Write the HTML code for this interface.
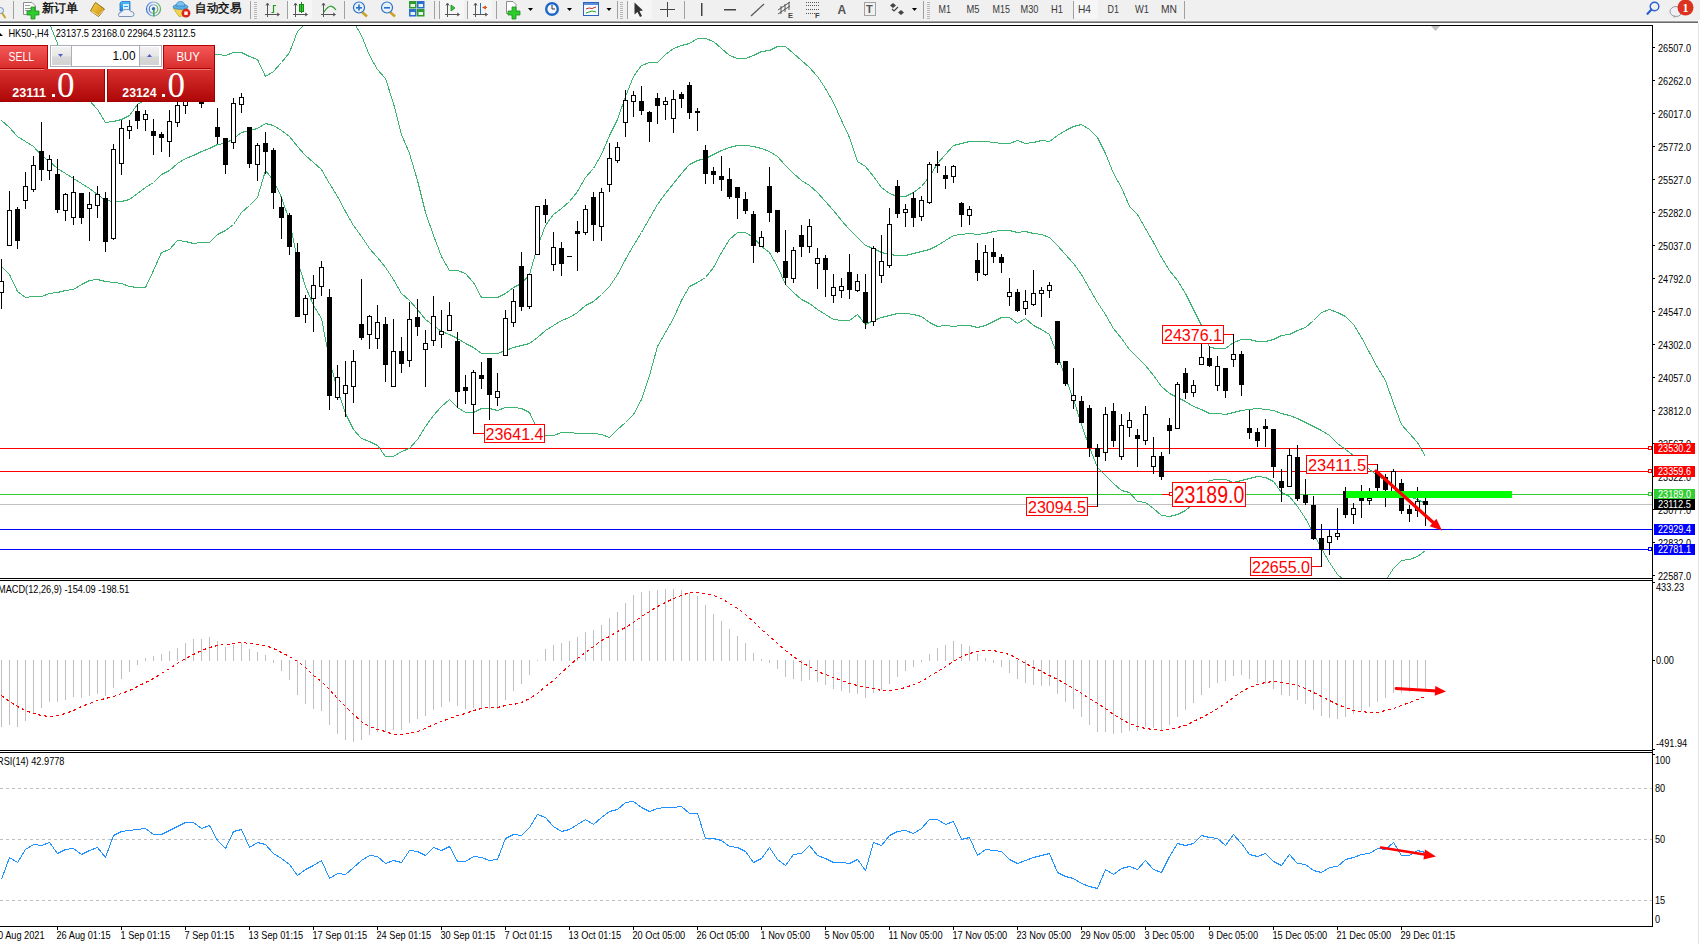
<!DOCTYPE html>
<html><head><meta charset="utf-8"><style>
html,body{margin:0;padding:0;}
body{width:1700px;height:944px;overflow:hidden;position:relative;background:#fff;}
</style></head><body>
<svg width="1700" height="944" viewBox="0 0 1700 944" style="position:absolute;left:0;top:0;display:block" font-family='"Liberation Sans", sans-serif'><rect x="0" y="0" width="1700" height="944" fill="#fff"/><defs><clipPath id="cm"><rect x="0" y="26" width="1652" height="552"/></clipPath><clipPath id="c1"><rect x="0" y="581" width="1652" height="169"/></clipPath><clipPath id="c2"><rect x="0" y="753" width="1652" height="173"/></clipPath></defs><g id="toolbar"><rect x="0" y="0" width="1700" height="20" fill="#f0f0f0"/><rect x="0" y="20" width="1698" height="1" fill="#f4f4f4"/><rect x="0" y="21" width="1698" height="1" fill="#a2a2a2"/><rect x="0" y="22" width="1698" height="1" fill="#6c6c6c"/><rect x="13" y="1" width="1" height="18" fill="#a0a0a0" shape-rendering="crispEdges"/><rect x="250" y="1" width="1" height="18" fill="#a0a0a0" shape-rendering="crispEdges"/><rect x="287" y="1" width="1" height="18" fill="#a0a0a0" shape-rendering="crispEdges"/><rect x="344" y="1" width="1" height="18" fill="#a0a0a0" shape-rendering="crispEdges"/><rect x="434" y="1" width="1" height="18" fill="#a0a0a0" shape-rendering="crispEdges"/><rect x="439" y="1" width="1" height="18" fill="#a0a0a0" shape-rendering="crispEdges"/><rect x="467" y="1" width="1" height="18" fill="#a0a0a0" shape-rendering="crispEdges"/><rect x="496" y="1" width="1" height="18" fill="#a0a0a0" shape-rendering="crispEdges"/><rect x="617" y="1" width="1" height="18" fill="#a0a0a0" shape-rendering="crispEdges"/><rect x="627" y="1" width="1" height="18" fill="#a0a0a0" shape-rendering="crispEdges"/><rect x="684" y="1" width="1" height="18" fill="#a0a0a0" shape-rendering="crispEdges"/><rect x="923" y="1" width="1" height="18" fill="#a0a0a0" shape-rendering="crispEdges"/><rect x="1073" y="1" width="1" height="18" fill="#a0a0a0" shape-rendering="crispEdges"/><rect x="1184" y="1" width="1" height="18" fill="#a0a0a0" shape-rendering="crispEdges"/><rect x="254" y="2" width="3" height="1" fill="#b8b8b8" shape-rendering="crispEdges"/><rect x="254" y="4" width="3" height="1" fill="#b8b8b8" shape-rendering="crispEdges"/><rect x="254" y="6" width="3" height="1" fill="#b8b8b8" shape-rendering="crispEdges"/><rect x="254" y="8" width="3" height="1" fill="#b8b8b8" shape-rendering="crispEdges"/><rect x="254" y="10" width="3" height="1" fill="#b8b8b8" shape-rendering="crispEdges"/><rect x="254" y="12" width="3" height="1" fill="#b8b8b8" shape-rendering="crispEdges"/><rect x="254" y="14" width="3" height="1" fill="#b8b8b8" shape-rendering="crispEdges"/><rect x="254" y="16" width="3" height="1" fill="#b8b8b8" shape-rendering="crispEdges"/><rect x="254" y="18" width="3" height="1" fill="#b8b8b8" shape-rendering="crispEdges"/><rect x="620" y="2" width="3" height="1" fill="#b8b8b8" shape-rendering="crispEdges"/><rect x="620" y="4" width="3" height="1" fill="#b8b8b8" shape-rendering="crispEdges"/><rect x="620" y="6" width="3" height="1" fill="#b8b8b8" shape-rendering="crispEdges"/><rect x="620" y="8" width="3" height="1" fill="#b8b8b8" shape-rendering="crispEdges"/><rect x="620" y="10" width="3" height="1" fill="#b8b8b8" shape-rendering="crispEdges"/><rect x="620" y="12" width="3" height="1" fill="#b8b8b8" shape-rendering="crispEdges"/><rect x="620" y="14" width="3" height="1" fill="#b8b8b8" shape-rendering="crispEdges"/><rect x="620" y="16" width="3" height="1" fill="#b8b8b8" shape-rendering="crispEdges"/><rect x="620" y="18" width="3" height="1" fill="#b8b8b8" shape-rendering="crispEdges"/><rect x="927" y="2" width="3" height="1" fill="#b8b8b8" shape-rendering="crispEdges"/><rect x="927" y="4" width="3" height="1" fill="#b8b8b8" shape-rendering="crispEdges"/><rect x="927" y="6" width="3" height="1" fill="#b8b8b8" shape-rendering="crispEdges"/><rect x="927" y="8" width="3" height="1" fill="#b8b8b8" shape-rendering="crispEdges"/><rect x="927" y="10" width="3" height="1" fill="#b8b8b8" shape-rendering="crispEdges"/><rect x="927" y="12" width="3" height="1" fill="#b8b8b8" shape-rendering="crispEdges"/><rect x="927" y="14" width="3" height="1" fill="#b8b8b8" shape-rendering="crispEdges"/><rect x="927" y="16" width="3" height="1" fill="#b8b8b8" shape-rendering="crispEdges"/><rect x="927" y="18" width="3" height="1" fill="#b8b8b8" shape-rendering="crispEdges"/><rect x="288" y="0" width="24" height="19" fill="#f6f6f6"/><rect x="440" y="0" width="24" height="19" fill="#f6f6f6"/><rect x="468" y="0" width="24" height="19" fill="#f6f6f6"/><rect x="628" y="0" width="24" height="19" fill="#f6f6f6"/><rect x="1074" y="0" width="24" height="19" fill="#f6f6f6"/><circle cx="0.5" cy="10.5" r="3" fill="#dfe9f5" stroke="#6a8fbf" stroke-width="1"/><line x1="2" y1="13" x2="5.5" y2="18" stroke="#c9a227" stroke-width="2"/><path d="M23.5 2.5 H32 L35.5 6 V14.5 H23.5 Z" fill="#fdfdfd" stroke="#8c8c8c" stroke-width="1"/><rect x="25" y="5" width="5" height="1" fill="#999"/><rect x="25" y="8" width="7" height="1" fill="#999"/><rect x="25" y="10" width="6" height="1" fill="#999"/><path d="M31 7 H35 V11 H39 V15 H35 V19 H31 V15 H27 V11 H31 Z" fill="#2ecc2e" stroke="#1d8f1d" stroke-width="0.8"/><text x="42" y="12.2" font-size="11.5" font-weight="bold" fill="#1a1a1a" font-family='"Liberation Sans", sans-serif' textLength="36" lengthAdjust="spacingAndGlyphs">新订单</text><defs><linearGradient id="gold" x1="0" y1="0" x2="1" y2="1"><stop offset="0" stop-color="#f7d34a"/><stop offset="1" stop-color="#c98f12"/></linearGradient><linearGradient id="blu" x1="0" y1="0" x2="0" y2="1"><stop offset="0" stop-color="#4cc0ff"/><stop offset="1" stop-color="#1a7fe0"/></linearGradient></defs><path d="M90.5 11 Q93 6 95.5 2.5 L104.5 9 Q102 12.5 98.5 16.5 Z" fill="url(#gold)" stroke="#8f6210" stroke-width="0.9"/><path d="M91.5 11.5 L98.5 15.5 L103.5 10" fill="none" stroke="#fbe9a8" stroke-width="0.8"/><path d="M120 3 L122 1.5 H130 V11 H120 Z" fill="url(#blu)" stroke="#1f6fc0" stroke-width="0.8"/><rect x="123" y="4" width="6" height="6" fill="#d8f0ff"/><rect x="124" y="6" width="4" height="1" fill="#3a9ae8"/><path d="M118.5 15.5 Q118 12 121.5 12 Q122.5 9 126.5 9.5 Q129 8.5 131 11.5 Q134 11.5 134 14.5 Q134 16.5 131.5 16.5 H120 Q118.5 16.5 118.5 15.5 Z" fill="#eef2f8" stroke="#6f86aa" stroke-width="0.9"/><defs><linearGradient id="sg" x1="0" y1="0" x2="1" y2="0"><stop offset="0" stop-color="#3a72d8"/><stop offset="0.5" stop-color="#8fb6e6"/><stop offset="1" stop-color="#5aae5a"/></linearGradient></defs><circle cx="153.5" cy="9" r="7" fill="none" stroke="url(#sg)" stroke-width="1.2"/><circle cx="153.5" cy="9" r="4.3" fill="none" stroke="url(#sg)" stroke-width="1.1"/><circle cx="153.5" cy="8.8" r="1.7" fill="#2f5fc8"/><rect x="153.2" y="9" width="1.3" height="7.5" fill="#22a022"/><path d="M173 8 L188 8 L183 16 L179 16.5 Z" fill="#f2d54c" stroke="#c0a030" stroke-width="0.7"/><ellipse cx="180.5" cy="6.8" rx="7.5" ry="2.6" fill="#5aaee6" stroke="#2f7fc0" stroke-width="0.7"/><path d="M176 6 Q176.5 1.5 180.5 1.5 Q184.5 1.5 185 6 Z" fill="#7cc4ef" stroke="#2f7fc0" stroke-width="0.7"/><circle cx="186" cy="13.2" r="4.4" fill="#d8261d"/><rect x="184.3" y="11.5" width="3.4" height="3.4" fill="#fff"/><text x="195" y="12.2" font-size="11.5" font-weight="bold" fill="#1a1a1a" font-family='"Liberation Sans", sans-serif' textLength="46" lengthAdjust="spacingAndGlyphs">自动交易</text><path d="M267.5 3.5 V16.5 M265 14.5 H279" fill="none" stroke="#555" stroke-width="1" shape-rendering="crispEdges"/><path d="M266 5.5 L267.5 3 L269 5.5 M277 13 L279.5 14.5 L277 16" fill="none" stroke="#555" stroke-width="1"/><path d="M271.5 12.5 H273.5 V5.5 H276" fill="none" stroke="#1f9a1f" stroke-width="1.2"/><path d="M295.5 3.5 V16.5 M293 14.5 H307" fill="none" stroke="#555" stroke-width="1" shape-rendering="crispEdges"/><path d="M294 5.5 L295.5 3 L297 5.5 M305 13 L307.5 14.5 L305 16" fill="none" stroke="#555" stroke-width="1"/><rect x="299.5" y="4.5" width="4" height="7" fill="#2ed12e" stroke="#1a8a1a" stroke-width="1"/><rect x="301" y="2" width="1" height="11" fill="#1a8a1a"/><path d="M323.5 3.5 V16.5 M321 14.5 H335" fill="none" stroke="#555" stroke-width="1" shape-rendering="crispEdges"/><path d="M322 5.5 L323.5 3 L325 5.5 M333 13 L335.5 14.5 L333 16" fill="none" stroke="#555" stroke-width="1"/><path d="M324 12 Q328 6 331 6 Q334 7 336 10" fill="none" stroke="#1f9a1f" stroke-width="1.2"/><line x1="362" y1="12" x2="367" y2="16.5" stroke="#c9a227" stroke-width="2.5"/><circle cx="359" cy="7.5" r="5.5" fill="#e7f1fb" stroke="#2a6fc4" stroke-width="1.2"/><rect x="356" y="7" width="6" height="1.6" fill="#2a6fc4"/><rect x="358.2" y="4.5" width="1.6" height="6" fill="#2a6fc4"/><line x1="390" y1="12" x2="395" y2="16.5" stroke="#c9a227" stroke-width="2.5"/><circle cx="387" cy="7.5" r="5.5" fill="#e7f1fb" stroke="#2a6fc4" stroke-width="1.2"/><rect x="384" y="7" width="6" height="1.6" fill="#2a6fc4"/><rect x="409" y="1" width="7.5" height="7.5" fill="#2f9a2f"/><rect x="410.5" y="4" width="4.5" height="3" fill="#e8f2e8"/><rect x="417" y="1" width="7.5" height="7.5" fill="#2b6fd0"/><rect x="418.5" y="4" width="4.5" height="3" fill="#e8f2e8"/><rect x="409" y="9" width="7.5" height="7.5" fill="#2b6fd0"/><rect x="410.5" y="12" width="4.5" height="3" fill="#e8f2e8"/><rect x="417" y="9" width="7.5" height="7.5" fill="#2f9a2f"/><rect x="418.5" y="12" width="4.5" height="3" fill="#e8f2e8"/><path d="M447.5 3.5 V16.5 M445 14.5 H459" fill="none" stroke="#555" stroke-width="1" shape-rendering="crispEdges"/><path d="M446 5.5 L447.5 3 L449 5.5 M457 13 L459.5 14.5 L457 16" fill="none" stroke="#555" stroke-width="1"/><path d="M451 5 L455 8 L451 11 Z" fill="#2ecc2e" stroke="#1a8a1a" stroke-width="0.8"/><path d="M475.5 3.5 V16.5 M473 14.5 H487" fill="none" stroke="#555" stroke-width="1" shape-rendering="crispEdges"/><path d="M474 5.5 L475.5 3 L477 5.5 M485 13 L487.5 14.5 L485 16" fill="none" stroke="#555" stroke-width="1"/><rect x="480" y="3" width="1" height="11" fill="#1f6fc8"/><path d="M482 7.5 L486 5.5 V9.5 Z M484 7 H487 V8 H484 Z" fill="#e2561c"/><path d="M506.5 1.5 H513 L516 4.5 V13.5 H506.5 Z" fill="#fdfdfd" stroke="#8c8c8c" stroke-width="1"/><path d="M512 7 H516 V11 H520 V15 H516 V19 H512 V15 H508 V11 H512 Z" fill="#2ecc2e" stroke="#1d8f1d" stroke-width="0.8"/><path d="M528.0 8 H533.0 L530.5 11 Z" fill="#000"/><path d="M567.0 8 H572.0 L569.5 11 Z" fill="#000"/><path d="M606.5 8 H611.5 L609 11 Z" fill="#000"/><circle cx="552" cy="9" r="7" fill="#1f67c9"/><circle cx="552" cy="9" r="4.6" fill="#f4f8fc"/><path d="M552 5 V9 H555" fill="none" stroke="#333" stroke-width="1"/><rect x="583.5" y="2.5" width="15" height="13" fill="#f6f9fd" stroke="#2b63c0" stroke-width="1"/><rect x="584" y="3" width="14" height="2" fill="#5d8ed8"/><path d="M586 9 L589 8 L592 8.5 L596 7" fill="none" stroke="#b33" stroke-width="1"/><path d="M586 13 L589 12 L592 11 L596 12" fill="none" stroke="#2a2" stroke-width="1"/><path d="M634.5 2.5 L643 10.5 L639.5 11 L642 16 L640 17 L637.5 12 L634.5 14.5 Z" fill="#333"/><rect x="667" y="2" width="1" height="15" fill="#444"/><rect x="660" y="9" width="15" height="1" fill="#444"/><rect x="701" y="3" width="1.5" height="13" fill="#444"/><rect x="724" y="9" width="12" height="1.5" fill="#444"/><line x1="751" y1="16" x2="764" y2="4" stroke="#555" stroke-width="1.2"/><path d="M778 10 L790 2 M778 14 L790 6 M781 6 V14 M785 4 V12 M789 2 V10" fill="none" stroke="#555" stroke-width="1"/><text x="788" y="18" font-size="7.5" font-weight="bold" fill="#444" font-family='"Liberation Sans", sans-serif'>E</text><line x1="806" y1="2.5" x2="820" y2="2.5" stroke="#555" stroke-width="1" stroke-dasharray="1 1"/><line x1="806" y1="5.5" x2="820" y2="5.5" stroke="#555" stroke-width="1" stroke-dasharray="1 1"/><line x1="806" y1="9.5" x2="820" y2="9.5" stroke="#555" stroke-width="1" stroke-dasharray="1 1"/><line x1="806" y1="13.5" x2="820" y2="13.5" stroke="#555" stroke-width="1" stroke-dasharray="1 1"/><text x="815" y="18" font-size="7.5" font-weight="bold" fill="#444" font-family='"Liberation Sans", sans-serif'>F</text><text x="837.5" y="13.5" font-size="12" font-weight="bold" fill="#555" font-family='"Liberation Sans", sans-serif'>A</text><rect x="864.5" y="2.5" width="11" height="13" fill="none" stroke="#555" stroke-width="1" stroke-dasharray="1 1"/><text x="866" y="13" font-size="11" font-weight="bold" fill="#555" font-family='"Liberation Sans", sans-serif'>T</text><path d="M893 3 L896 5.5 L893 8 L890 5.5 Z M901 10 L904 12.5 L901 15 L898 12.5 Z" fill="#444"/><path d="M892 9 L894 11 L898 7" fill="none" stroke="#444" stroke-width="1.2"/><path d="M912 8 H917 L914.5 11 Z" fill="#000"/><text x="938.6" y="13" font-size="10.5" fill="#3a3a3a" font-family='"Liberation Sans", sans-serif' textLength="12.4" lengthAdjust="spacingAndGlyphs">M1</text><text x="966.5" y="13" font-size="10.5" fill="#3a3a3a" font-family='"Liberation Sans", sans-serif' textLength="13.0" lengthAdjust="spacingAndGlyphs">M5</text><text x="992.6" y="13" font-size="10.5" fill="#3a3a3a" font-family='"Liberation Sans", sans-serif' textLength="17.4" lengthAdjust="spacingAndGlyphs">M15</text><text x="1020.6" y="13" font-size="10.5" fill="#3a3a3a" font-family='"Liberation Sans", sans-serif' textLength="17.9" lengthAdjust="spacingAndGlyphs">M30</text><text x="1051" y="13" font-size="10.5" fill="#3a3a3a" font-family='"Liberation Sans", sans-serif' textLength="12.0" lengthAdjust="spacingAndGlyphs">H1</text><text x="1078" y="13" font-size="10.5" fill="#3a3a3a" font-family='"Liberation Sans", sans-serif' textLength="13.0" lengthAdjust="spacingAndGlyphs">H4</text><text x="1107.6" y="13" font-size="10.5" fill="#3a3a3a" font-family='"Liberation Sans", sans-serif' textLength="11.4" lengthAdjust="spacingAndGlyphs">D1</text><text x="1135" y="13" font-size="10.5" fill="#3a3a3a" font-family='"Liberation Sans", sans-serif' textLength="14.0" lengthAdjust="spacingAndGlyphs">W1</text><text x="1161" y="13" font-size="10.5" fill="#3a3a3a" font-family='"Liberation Sans", sans-serif' textLength="16.0" lengthAdjust="spacingAndGlyphs">MN</text><circle cx="1654.5" cy="6.5" r="4.3" fill="none" stroke="#2a5fd0" stroke-width="1.4"/><line x1="1651.5" y1="9.5" x2="1647.5" y2="13.8" stroke="#2a5fd0" stroke-width="2.2" stroke-linecap="round"/><ellipse cx="1676" cy="11.5" rx="6" ry="5" fill="#eef0f6" stroke="#9a9a9a" stroke-width="1"/><path d="M1673 15.5 L1674 18 L1677 16" fill="#aaa"/><circle cx="1685.5" cy="7.5" r="8" fill="#dc3220"/><text x="1685.5" y="11.5" font-size="12" font-weight="bold" fill="#fff" text-anchor="middle" font-family="'Liberation Serif', serif">1</text></g><path d="M0 33 L3 36 H0 Z" fill="#000"/><text x="8.4" y="37" font-size="10.5" fill="#000" text-anchor="start" textLength="40.4" lengthAdjust="spacingAndGlyphs">HK50-,H4</text><text x="55.7" y="37" font-size="10.5" fill="#000" text-anchor="start" textLength="140.0" lengthAdjust="spacingAndGlyphs">23137.5 23168.0 22964.5 23112.5</text><g clip-path="url(#cm)" shape-rendering="crispEdges"><rect x="0" y="504" width="1652" height="1" fill="#c0c0c0"/><rect x="0" y="448" width="1652" height="1" fill="#ff0000"/><rect x="0" y="471" width="1652" height="1" fill="#ff0000"/><rect x="0" y="494" width="1652" height="1" fill="#32cd32"/><rect x="0" y="529" width="1652" height="1" fill="#0000ff"/><rect x="0" y="549" width="1652" height="1" fill="#0000ff"/></g><g clip-path="url(#cm)" shape-rendering="crispEdges"><polyline points="1.5,-19.5 9.5,-9.5 17.5,5.5 25.5,20.5 33.5,-14.5 41.5,5.5 49.5,23.5 57.5,43.5 65.5,65.5 73.5,85.5 81.5,95.5 89.5,100.5 97.5,109.5 105.5,122.5 113.5,121.5 121.5,119.5 129.5,115.5 137.5,104.5 145.5,99.5 153.5,93.5 161.5,97.5 169.5,91.5 177.5,86.5 185.5,76.5 193.5,66.5 201.5,61.5 209.5,54.5 217.5,54.5 225.5,55.5 233.5,52.5 241.5,52.5 249.5,56.5 257.5,59.5 265.5,76.5 273.5,71.5 281.5,62.5 289.5,52.5 297.5,31.5 305.5,23.5 313.5,20.5 321.5,20.5 329.5,6.5 337.5,4.5 345.5,9.5 353.5,21.5 361.5,35.5 369.5,55.5 377.5,69.5 385.5,78.5 393.5,103.5 401.5,134.5 409.5,153.5 417.5,180.5 425.5,212.5 433.5,235.5 441.5,256.5 449.5,270.5 457.5,270.5 465.5,273.5 473.5,282.5 481.5,297.5 489.5,297.5 497.5,297.5 505.5,293.5 513.5,287.5 521.5,283.5 529.5,274.5 537.5,246.5 545.5,225.5 553.5,214.5 561.5,208.5 569.5,201.5 577.5,191.5 585.5,177.5 593.5,168.5 601.5,154.5 609.5,135.5 617.5,119.5 625.5,96.5 633.5,76.5 641.5,65.5 649.5,62.5 657.5,62.5 665.5,54.5 673.5,48.5 681.5,45.5 689.5,43.5 697.5,38.5 705.5,38.5 713.5,41.5 721.5,48.5 729.5,55.5 737.5,58.5 745.5,58.5 753.5,55.5 761.5,51.5 769.5,50.5 777.5,46.5 785.5,46.5 793.5,53.5 801.5,60.5 809.5,67.5 817.5,76.5 825.5,88.5 833.5,102.5 841.5,120.5 849.5,137.5 857.5,161.5 865.5,166.5 873.5,176.5 881.5,187.5 889.5,193.5 897.5,196.5 905.5,196.5 913.5,192.5 921.5,186.5 929.5,176.5 937.5,163.5 945.5,154.5 953.5,145.5 961.5,143.5 969.5,141.5 977.5,141.5 985.5,141.5 993.5,142.5 1001.5,143.5 1009.5,143.5 1017.5,140.5 1025.5,143.5 1033.5,142.5 1041.5,140.5 1049.5,141.5 1057.5,135.5 1065.5,130.5 1073.5,126.5 1081.5,124.5 1089.5,129.5 1097.5,137.5 1105.5,153.5 1113.5,173.5 1121.5,187.5 1129.5,206.5 1137.5,214.5 1145.5,228.5 1153.5,242.5 1161.5,257.5 1169.5,270.5 1177.5,280.5 1185.5,293.5 1193.5,309.5 1201.5,325.5 1209.5,347.5 1217.5,348.5 1225.5,348.5 1233.5,342.5 1241.5,339.5 1249.5,339.5 1257.5,341.5 1265.5,341.5 1273.5,339.5 1281.5,335.5 1289.5,334.5 1297.5,330.5 1305.5,327.5 1313.5,320.5 1321.5,312.5 1329.5,309.5 1337.5,312.5 1345.5,316.5 1353.5,324.5 1361.5,337.5 1369.5,352.5 1377.5,367.5 1385.5,380.5 1393.5,403.5 1401.5,424.5 1409.5,433.5 1417.5,442.5 1425.5,456.5" fill="none" stroke="#3cb371" stroke-width="1" /><polyline points="1.5,120.5 9.5,127.5 17.5,136.5 25.5,141.5 33.5,146.5 41.5,155.5 49.5,161.5 57.5,168.5 65.5,173.5 73.5,178.5 81.5,183.5 89.5,188.5 97.5,194.5 105.5,200.5 113.5,201.5 121.5,201.5 129.5,199.5 137.5,193.5 145.5,187.5 153.5,182.5 161.5,174.5 169.5,170.5 177.5,163.5 185.5,158.5 193.5,155.5 201.5,151.5 209.5,148.5 217.5,144.5 225.5,143.5 233.5,138.5 241.5,132.5 249.5,130.5 257.5,128.5 265.5,123.5 273.5,125.5 281.5,130.5 289.5,136.5 297.5,146.5 305.5,155.5 313.5,162.5 321.5,169.5 329.5,183.5 337.5,196.5 345.5,211.5 353.5,225.5 361.5,236.5 369.5,248.5 377.5,257.5 385.5,267.5 393.5,279.5 401.5,293.5 409.5,300.5 417.5,309.5 425.5,319.5 433.5,325.5 441.5,331.5 449.5,334.5 457.5,338.5 465.5,343.5 473.5,347.5 481.5,353.5 489.5,353.5 497.5,353.5 505.5,350.5 513.5,347.5 521.5,345.5 529.5,343.5 537.5,337.5 545.5,330.5 553.5,325.5 561.5,320.5 569.5,317.5 577.5,312.5 585.5,305.5 593.5,301.5 601.5,294.5 609.5,286.5 617.5,274.5 625.5,259.5 633.5,245.5 641.5,232.5 649.5,218.5 657.5,204.5 665.5,193.5 673.5,183.5 681.5,173.5 689.5,164.5 697.5,160.5 705.5,158.5 713.5,154.5 721.5,150.5 729.5,147.5 737.5,145.5 745.5,145.5 753.5,146.5 761.5,148.5 769.5,151.5 777.5,156.5 785.5,165.5 793.5,173.5 801.5,180.5 809.5,185.5 817.5,192.5 825.5,201.5 833.5,210.5 841.5,220.5 849.5,229.5 857.5,237.5 865.5,245.5 873.5,248.5 881.5,252.5 889.5,254.5 897.5,255.5 905.5,255.5 913.5,253.5 921.5,251.5 929.5,249.5 937.5,245.5 945.5,240.5 953.5,235.5 961.5,234.5 969.5,233.5 977.5,234.5 985.5,233.5 993.5,231.5 1001.5,230.5 1009.5,230.5 1017.5,232.5 1025.5,231.5 1033.5,233.5 1041.5,234.5 1049.5,237.5 1057.5,245.5 1065.5,254.5 1073.5,263.5 1081.5,274.5 1089.5,288.5 1097.5,302.5 1105.5,314.5 1113.5,328.5 1121.5,338.5 1129.5,349.5 1137.5,357.5 1145.5,365.5 1153.5,375.5 1161.5,386.5 1169.5,393.5 1177.5,397.5 1185.5,401.5 1193.5,406.5 1201.5,409.5 1209.5,413.5 1217.5,413.5 1225.5,414.5 1233.5,412.5 1241.5,410.5 1249.5,409.5 1257.5,408.5 1265.5,409.5 1273.5,410.5 1281.5,413.5 1289.5,415.5 1297.5,418.5 1305.5,422.5 1313.5,426.5 1321.5,430.5 1329.5,435.5 1337.5,443.5 1345.5,449.5 1353.5,455.5 1361.5,462.5 1369.5,469.5 1377.5,475.5 1385.5,480.5 1393.5,486.5 1401.5,492.5 1409.5,496.5 1417.5,499.5 1425.5,503.5" fill="none" stroke="#3cb371" stroke-width="1" /><polyline points="1.5,266.5 9.5,274.5 17.5,291.5 25.5,297.5 33.5,296.5 41.5,296.5 49.5,293.5 57.5,292.5 65.5,290.5 73.5,289.5 81.5,284.5 89.5,280.5 97.5,279.5 105.5,281.5 113.5,282.5 121.5,283.5 129.5,286.5 137.5,287.5 145.5,287.5 153.5,270.5 161.5,252.5 169.5,249.5 177.5,240.5 185.5,241.5 193.5,243.5 201.5,242.5 209.5,242.5 217.5,234.5 225.5,230.5 233.5,224.5 241.5,212.5 249.5,205.5 257.5,197.5 265.5,170.5 273.5,180.5 281.5,197.5 289.5,220.5 297.5,260.5 305.5,286.5 313.5,305.5 321.5,318.5 329.5,360.5 337.5,389.5 345.5,413.5 353.5,429.5 361.5,438.5 369.5,441.5 377.5,445.5 385.5,456.5 393.5,456.5 401.5,451.5 409.5,448.5 417.5,439.5 425.5,426.5 433.5,415.5 441.5,406.5 449.5,399.5 457.5,407.5 465.5,412.5 473.5,412.5 481.5,408.5 489.5,408.5 497.5,410.5 505.5,407.5 513.5,407.5 521.5,408.5 529.5,412.5 537.5,429.5 545.5,435.5 553.5,435.5 561.5,432.5 569.5,432.5 577.5,433.5 585.5,433.5 593.5,433.5 601.5,434.5 609.5,437.5 617.5,429.5 625.5,422.5 633.5,414.5 641.5,399.5 649.5,375.5 657.5,346.5 665.5,332.5 673.5,318.5 681.5,300.5 689.5,286.5 697.5,282.5 705.5,277.5 713.5,267.5 721.5,252.5 729.5,239.5 737.5,232.5 745.5,232.5 753.5,237.5 761.5,246.5 769.5,252.5 777.5,266.5 785.5,284.5 793.5,292.5 801.5,299.5 809.5,303.5 817.5,309.5 825.5,314.5 833.5,319.5 841.5,320.5 849.5,320.5 857.5,314.5 865.5,324.5 873.5,320.5 881.5,317.5 889.5,315.5 897.5,313.5 905.5,313.5 913.5,314.5 921.5,316.5 929.5,322.5 937.5,326.5 945.5,325.5 953.5,326.5 961.5,325.5 969.5,325.5 977.5,327.5 985.5,325.5 993.5,321.5 1001.5,317.5 1009.5,317.5 1017.5,323.5 1025.5,318.5 1033.5,325.5 1041.5,329.5 1049.5,334.5 1057.5,355.5 1065.5,377.5 1073.5,399.5 1081.5,424.5 1089.5,447.5 1097.5,467.5 1105.5,475.5 1113.5,483.5 1121.5,490.5 1129.5,492.5 1137.5,501.5 1145.5,502.5 1153.5,508.5 1161.5,515.5 1169.5,516.5 1177.5,514.5 1185.5,510.5 1193.5,503.5 1201.5,494.5 1209.5,480.5 1217.5,479.5 1225.5,479.5 1233.5,482.5 1241.5,480.5 1249.5,478.5 1257.5,476.5 1265.5,477.5 1273.5,481.5 1281.5,492.5 1289.5,496.5 1297.5,506.5 1305.5,518.5 1313.5,533.5 1321.5,548.5 1329.5,562.5 1337.5,574.5 1345.5,581.5 1353.5,587.5 1361.5,587.5 1369.5,586.5 1377.5,582.5 1385.5,580.5 1393.5,568.5 1401.5,560.5 1409.5,559.5 1417.5,556.5 1425.5,550.5" fill="none" stroke="#3cb371" stroke-width="1" /></g><g clip-path="url(#cm)" shape-rendering="crispEdges"><rect x="1" y="259" width="1" height="50" fill="#000"/><rect x="-1" y="281" width="5" height="12" fill="#000"/><rect x="0" y="282" width="3" height="10" fill="#fff"/><rect x="9" y="191" width="1" height="55" fill="#000"/><rect x="7" y="210" width="5" height="36" fill="#000"/><rect x="8" y="211" width="3" height="34" fill="#fff"/><rect x="17" y="207" width="1" height="42" fill="#000"/><rect x="15" y="209" width="5" height="32" fill="#000"/><rect x="25" y="172" width="1" height="37" fill="#000"/><rect x="23" y="186" width="5" height="15" fill="#000"/><rect x="24" y="187" width="3" height="13" fill="#fff"/><rect x="33" y="156" width="1" height="36" fill="#000"/><rect x="31" y="165" width="5" height="25" fill="#000"/><rect x="32" y="166" width="3" height="23" fill="#fff"/><rect x="41" y="122" width="1" height="59" fill="#000"/><rect x="39" y="151" width="5" height="19" fill="#000"/><rect x="49" y="155" width="1" height="25" fill="#000"/><rect x="47" y="159" width="5" height="12" fill="#000"/><rect x="48" y="160" width="3" height="10" fill="#fff"/><rect x="57" y="159" width="1" height="54" fill="#000"/><rect x="55" y="174" width="5" height="36" fill="#000"/><rect x="65" y="193" width="1" height="28" fill="#000"/><rect x="63" y="194" width="5" height="17" fill="#000"/><rect x="64" y="195" width="3" height="15" fill="#fff"/><rect x="73" y="176" width="1" height="49" fill="#000"/><rect x="71" y="192" width="5" height="26" fill="#000"/><rect x="72" y="193" width="3" height="24" fill="#fff"/><rect x="81" y="193" width="1" height="31" fill="#000"/><rect x="79" y="193" width="5" height="25" fill="#000"/><rect x="89" y="192" width="1" height="49" fill="#000"/><rect x="87" y="204" width="5" height="5" fill="#000"/><rect x="88" y="205" width="3" height="3" fill="#fff"/><rect x="97" y="186" width="1" height="32" fill="#000"/><rect x="95" y="194" width="5" height="12" fill="#000"/><rect x="96" y="195" width="3" height="10" fill="#fff"/><rect x="105" y="192" width="1" height="60" fill="#000"/><rect x="103" y="198" width="5" height="44" fill="#000"/><rect x="113" y="144" width="1" height="96" fill="#000"/><rect x="111" y="149" width="5" height="90" fill="#000"/><rect x="112" y="150" width="3" height="88" fill="#fff"/><rect x="121" y="120" width="1" height="55" fill="#000"/><rect x="119" y="128" width="5" height="36" fill="#000"/><rect x="120" y="129" width="3" height="34" fill="#fff"/><rect x="129" y="120" width="1" height="19" fill="#000"/><rect x="127" y="126" width="5" height="5" fill="#000"/><rect x="128" y="127" width="3" height="3" fill="#fff"/><rect x="137" y="104" width="1" height="25" fill="#000"/><rect x="135" y="111" width="5" height="10" fill="#000"/><rect x="145" y="110" width="1" height="21" fill="#000"/><rect x="143" y="114" width="5" height="6" fill="#000"/><rect x="144" y="115" width="3" height="4" fill="#fff"/><rect x="153" y="119" width="1" height="36" fill="#000"/><rect x="151" y="131" width="5" height="5" fill="#000"/><rect x="161" y="132" width="1" height="20" fill="#000"/><rect x="159" y="134" width="5" height="4" fill="#000"/><rect x="169" y="110" width="1" height="47" fill="#000"/><rect x="167" y="121" width="5" height="21" fill="#000"/><rect x="168" y="122" width="3" height="19" fill="#fff"/><rect x="177" y="100" width="1" height="27" fill="#000"/><rect x="175" y="105" width="5" height="18" fill="#000"/><rect x="176" y="106" width="3" height="16" fill="#fff"/><rect x="185" y="80" width="1" height="34" fill="#000"/><rect x="183" y="89" width="5" height="17" fill="#000"/><rect x="184" y="90" width="3" height="15" fill="#fff"/><rect x="193" y="80" width="1" height="16" fill="#000"/><rect x="191" y="88" width="5" height="3" fill="#000"/><rect x="192" y="89" width="3" height="1" fill="#fff"/><rect x="201" y="82" width="1" height="26" fill="#000"/><rect x="199" y="88" width="5" height="16" fill="#000"/><rect x="209" y="85" width="1" height="17" fill="#000"/><rect x="207" y="92" width="5" height="10" fill="#000"/><rect x="208" y="93" width="3" height="8" fill="#fff"/><rect x="217" y="108" width="1" height="36" fill="#000"/><rect x="215" y="127" width="5" height="10" fill="#000"/><rect x="225" y="138" width="1" height="36" fill="#000"/><rect x="223" y="138" width="5" height="27" fill="#000"/><rect x="233" y="98" width="1" height="51" fill="#000"/><rect x="231" y="103" width="5" height="40" fill="#000"/><rect x="232" y="104" width="3" height="38" fill="#fff"/><rect x="241" y="93" width="1" height="20" fill="#000"/><rect x="239" y="97" width="5" height="8" fill="#000"/><rect x="240" y="98" width="3" height="6" fill="#fff"/><rect x="249" y="127" width="1" height="41" fill="#000"/><rect x="247" y="127" width="5" height="37" fill="#000"/><rect x="257" y="143" width="1" height="38" fill="#000"/><rect x="255" y="145" width="5" height="20" fill="#000"/><rect x="256" y="146" width="3" height="18" fill="#fff"/><rect x="265" y="132" width="1" height="42" fill="#000"/><rect x="263" y="143" width="5" height="9" fill="#000"/><rect x="273" y="148" width="1" height="61" fill="#000"/><rect x="271" y="150" width="5" height="43" fill="#000"/><rect x="281" y="197" width="1" height="42" fill="#000"/><rect x="279" y="207" width="5" height="11" fill="#000"/><rect x="289" y="213" width="1" height="42" fill="#000"/><rect x="287" y="215" width="5" height="32" fill="#000"/><rect x="297" y="243" width="1" height="74" fill="#000"/><rect x="295" y="252" width="5" height="65" fill="#000"/><rect x="305" y="295" width="1" height="28" fill="#000"/><rect x="303" y="298" width="5" height="17" fill="#000"/><rect x="304" y="299" width="3" height="15" fill="#fff"/><rect x="313" y="275" width="1" height="57" fill="#000"/><rect x="311" y="285" width="5" height="14" fill="#000"/><rect x="312" y="286" width="3" height="12" fill="#fff"/><rect x="321" y="261" width="1" height="35" fill="#000"/><rect x="319" y="267" width="5" height="20" fill="#000"/><rect x="320" y="268" width="3" height="18" fill="#fff"/><rect x="329" y="289" width="1" height="121" fill="#000"/><rect x="327" y="297" width="5" height="99" fill="#000"/><rect x="337" y="365" width="1" height="35" fill="#000"/><rect x="335" y="377" width="5" height="21" fill="#000"/><rect x="336" y="378" width="3" height="19" fill="#fff"/><rect x="345" y="361" width="1" height="56" fill="#000"/><rect x="343" y="385" width="5" height="9" fill="#000"/><rect x="344" y="386" width="3" height="7" fill="#fff"/><rect x="353" y="350" width="1" height="53" fill="#000"/><rect x="351" y="361" width="5" height="26" fill="#000"/><rect x="352" y="362" width="3" height="24" fill="#fff"/><rect x="361" y="279" width="1" height="61" fill="#000"/><rect x="359" y="324" width="5" height="14" fill="#000"/><rect x="369" y="315" width="1" height="34" fill="#000"/><rect x="367" y="316" width="5" height="19" fill="#000"/><rect x="368" y="317" width="3" height="17" fill="#fff"/><rect x="377" y="305" width="1" height="44" fill="#000"/><rect x="375" y="322" width="5" height="17" fill="#000"/><rect x="376" y="323" width="3" height="15" fill="#fff"/><rect x="385" y="317" width="1" height="65" fill="#000"/><rect x="383" y="324" width="5" height="41" fill="#000"/><rect x="393" y="319" width="1" height="68" fill="#000"/><rect x="391" y="351" width="5" height="36" fill="#000"/><rect x="392" y="352" width="3" height="34" fill="#fff"/><rect x="401" y="337" width="1" height="36" fill="#000"/><rect x="399" y="351" width="5" height="13" fill="#000"/><rect x="409" y="302" width="1" height="65" fill="#000"/><rect x="407" y="319" width="5" height="42" fill="#000"/><rect x="408" y="320" width="3" height="40" fill="#fff"/><rect x="417" y="299" width="1" height="37" fill="#000"/><rect x="415" y="317" width="5" height="10" fill="#000"/><rect x="425" y="330" width="1" height="57" fill="#000"/><rect x="423" y="343" width="5" height="7" fill="#000"/><rect x="424" y="344" width="3" height="5" fill="#fff"/><rect x="433" y="296" width="1" height="50" fill="#000"/><rect x="431" y="316" width="5" height="25" fill="#000"/><rect x="432" y="317" width="3" height="23" fill="#fff"/><rect x="441" y="310" width="1" height="38" fill="#000"/><rect x="439" y="331" width="5" height="4" fill="#000"/><rect x="440" y="332" width="3" height="2" fill="#fff"/><rect x="449" y="302" width="1" height="29" fill="#000"/><rect x="447" y="315" width="5" height="16" fill="#000"/><rect x="448" y="316" width="3" height="14" fill="#fff"/><rect x="457" y="332" width="1" height="76" fill="#000"/><rect x="455" y="341" width="5" height="51" fill="#000"/><rect x="465" y="375" width="1" height="29" fill="#000"/><rect x="463" y="387" width="5" height="4" fill="#000"/><rect x="473" y="370" width="1" height="64" fill="#000"/><rect x="471" y="372" width="5" height="33" fill="#000"/><rect x="472" y="373" width="3" height="31" fill="#fff"/><rect x="481" y="362" width="1" height="27" fill="#000"/><rect x="479" y="375" width="5" height="4" fill="#000"/><rect x="489" y="358" width="1" height="62" fill="#000"/><rect x="487" y="358" width="5" height="37" fill="#000"/><rect x="497" y="373" width="1" height="33" fill="#000"/><rect x="495" y="391" width="5" height="7" fill="#000"/><rect x="496" y="392" width="3" height="5" fill="#fff"/><rect x="505" y="310" width="1" height="46" fill="#000"/><rect x="503" y="318" width="5" height="38" fill="#000"/><rect x="504" y="319" width="3" height="36" fill="#fff"/><rect x="513" y="289" width="1" height="38" fill="#000"/><rect x="511" y="301" width="5" height="22" fill="#000"/><rect x="512" y="302" width="3" height="20" fill="#fff"/><rect x="521" y="252" width="1" height="59" fill="#000"/><rect x="519" y="266" width="5" height="41" fill="#000"/><rect x="529" y="274" width="1" height="35" fill="#000"/><rect x="527" y="274" width="5" height="33" fill="#000"/><rect x="528" y="275" width="3" height="31" fill="#fff"/><rect x="537" y="206" width="1" height="49" fill="#000"/><rect x="535" y="206" width="5" height="49" fill="#000"/><rect x="536" y="207" width="3" height="47" fill="#fff"/><rect x="545" y="199" width="1" height="24" fill="#000"/><rect x="543" y="205" width="5" height="10" fill="#000"/><rect x="553" y="232" width="1" height="39" fill="#000"/><rect x="551" y="247" width="5" height="18" fill="#000"/><rect x="552" y="248" width="3" height="16" fill="#fff"/><rect x="561" y="242" width="1" height="34" fill="#000"/><rect x="559" y="248" width="5" height="16" fill="#000"/><rect x="569" y="256" width="1" height="1" fill="#000"/><rect x="567" y="256" width="5" height="1" fill="#000"/><rect x="577" y="221" width="1" height="50" fill="#000"/><rect x="575" y="231" width="5" height="3" fill="#000"/><rect x="585" y="205" width="1" height="30" fill="#000"/><rect x="583" y="209" width="5" height="24" fill="#000"/><rect x="584" y="210" width="3" height="22" fill="#fff"/><rect x="593" y="192" width="1" height="49" fill="#000"/><rect x="591" y="197" width="5" height="28" fill="#000"/><rect x="601" y="188" width="1" height="53" fill="#000"/><rect x="599" y="192" width="5" height="35" fill="#000"/><rect x="600" y="193" width="3" height="33" fill="#fff"/><rect x="609" y="143" width="1" height="49" fill="#000"/><rect x="607" y="158" width="5" height="27" fill="#000"/><rect x="608" y="159" width="3" height="25" fill="#fff"/><rect x="617" y="142" width="1" height="21" fill="#000"/><rect x="615" y="147" width="5" height="14" fill="#000"/><rect x="616" y="148" width="3" height="12" fill="#fff"/><rect x="625" y="90" width="1" height="47" fill="#000"/><rect x="623" y="100" width="5" height="23" fill="#000"/><rect x="624" y="101" width="3" height="21" fill="#fff"/><rect x="633" y="91" width="1" height="26" fill="#000"/><rect x="631" y="95" width="5" height="7" fill="#000"/><rect x="632" y="96" width="3" height="5" fill="#fff"/><rect x="641" y="86" width="1" height="29" fill="#000"/><rect x="639" y="101" width="5" height="10" fill="#000"/><rect x="649" y="111" width="1" height="31" fill="#000"/><rect x="647" y="112" width="5" height="10" fill="#000"/><rect x="657" y="93" width="1" height="31" fill="#000"/><rect x="655" y="98" width="5" height="8" fill="#000"/><rect x="665" y="97" width="1" height="23" fill="#000"/><rect x="663" y="101" width="5" height="4" fill="#000"/><rect x="664" y="102" width="3" height="2" fill="#fff"/><rect x="673" y="90" width="1" height="43" fill="#000"/><rect x="671" y="99" width="5" height="20" fill="#000"/><rect x="672" y="100" width="3" height="18" fill="#fff"/><rect x="681" y="92" width="1" height="16" fill="#000"/><rect x="679" y="94" width="5" height="5" fill="#000"/><rect x="689" y="82" width="1" height="37" fill="#000"/><rect x="687" y="85" width="5" height="28" fill="#000"/><rect x="697" y="108" width="1" height="23" fill="#000"/><rect x="695" y="111" width="5" height="2" fill="#000"/><rect x="705" y="145" width="1" height="39" fill="#000"/><rect x="703" y="150" width="5" height="24" fill="#000"/><rect x="713" y="167" width="1" height="17" fill="#000"/><rect x="711" y="171" width="5" height="4" fill="#000"/><rect x="721" y="156" width="1" height="35" fill="#000"/><rect x="719" y="176" width="5" height="4" fill="#000"/><rect x="729" y="168" width="1" height="31" fill="#000"/><rect x="727" y="179" width="5" height="18" fill="#000"/><rect x="737" y="187" width="1" height="32" fill="#000"/><rect x="735" y="187" width="5" height="11" fill="#000"/><rect x="745" y="192" width="1" height="22" fill="#000"/><rect x="743" y="199" width="5" height="12" fill="#000"/><rect x="753" y="211" width="1" height="52" fill="#000"/><rect x="751" y="214" width="5" height="32" fill="#000"/><rect x="761" y="231" width="1" height="16" fill="#000"/><rect x="759" y="237" width="5" height="10" fill="#000"/><rect x="760" y="238" width="3" height="8" fill="#fff"/><rect x="769" y="167" width="1" height="55" fill="#000"/><rect x="767" y="186" width="5" height="27" fill="#000"/><rect x="777" y="210" width="1" height="43" fill="#000"/><rect x="775" y="210" width="5" height="42" fill="#000"/><rect x="785" y="230" width="1" height="55" fill="#000"/><rect x="783" y="261" width="5" height="17" fill="#000"/><rect x="793" y="247" width="1" height="36" fill="#000"/><rect x="791" y="250" width="5" height="29" fill="#000"/><rect x="792" y="251" width="3" height="27" fill="#fff"/><rect x="801" y="225" width="1" height="32" fill="#000"/><rect x="799" y="235" width="5" height="12" fill="#000"/><rect x="809" y="219" width="1" height="34" fill="#000"/><rect x="807" y="226" width="5" height="21" fill="#000"/><rect x="808" y="227" width="3" height="19" fill="#fff"/><rect x="817" y="248" width="1" height="41" fill="#000"/><rect x="815" y="258" width="5" height="6" fill="#000"/><rect x="816" y="259" width="3" height="4" fill="#fff"/><rect x="825" y="255" width="1" height="42" fill="#000"/><rect x="823" y="258" width="5" height="12" fill="#000"/><rect x="833" y="274" width="1" height="29" fill="#000"/><rect x="831" y="287" width="5" height="9" fill="#000"/><rect x="832" y="288" width="3" height="7" fill="#fff"/><rect x="841" y="278" width="1" height="20" fill="#000"/><rect x="839" y="286" width="5" height="5" fill="#000"/><rect x="840" y="287" width="3" height="3" fill="#fff"/><rect x="849" y="254" width="1" height="45" fill="#000"/><rect x="847" y="272" width="5" height="18" fill="#000"/><rect x="857" y="274" width="1" height="18" fill="#000"/><rect x="855" y="281" width="5" height="10" fill="#000"/><rect x="856" y="282" width="3" height="8" fill="#fff"/><rect x="865" y="274" width="1" height="55" fill="#000"/><rect x="863" y="292" width="5" height="31" fill="#000"/><rect x="873" y="246" width="1" height="80" fill="#000"/><rect x="871" y="248" width="5" height="74" fill="#000"/><rect x="872" y="249" width="3" height="72" fill="#fff"/><rect x="881" y="235" width="1" height="48" fill="#000"/><rect x="879" y="261" width="5" height="15" fill="#000"/><rect x="880" y="262" width="3" height="13" fill="#fff"/><rect x="889" y="208" width="1" height="60" fill="#000"/><rect x="887" y="224" width="5" height="42" fill="#000"/><rect x="888" y="225" width="3" height="40" fill="#fff"/><rect x="897" y="180" width="1" height="38" fill="#000"/><rect x="895" y="186" width="5" height="28" fill="#000"/><rect x="905" y="204" width="1" height="23" fill="#000"/><rect x="903" y="209" width="5" height="4" fill="#000"/><rect x="904" y="210" width="3" height="2" fill="#fff"/><rect x="913" y="192" width="1" height="35" fill="#000"/><rect x="911" y="198" width="5" height="20" fill="#000"/><rect x="921" y="196" width="1" height="25" fill="#000"/><rect x="919" y="200" width="5" height="17" fill="#000"/><rect x="920" y="201" width="3" height="15" fill="#fff"/><rect x="929" y="162" width="1" height="42" fill="#000"/><rect x="927" y="164" width="5" height="39" fill="#000"/><rect x="928" y="165" width="3" height="37" fill="#fff"/><rect x="937" y="151" width="1" height="22" fill="#000"/><rect x="935" y="164" width="5" height="2" fill="#000"/><rect x="945" y="166" width="1" height="23" fill="#000"/><rect x="943" y="175" width="5" height="4" fill="#000"/><rect x="953" y="165" width="1" height="18" fill="#000"/><rect x="951" y="166" width="5" height="11" fill="#000"/><rect x="952" y="167" width="3" height="9" fill="#fff"/><rect x="961" y="202" width="1" height="25" fill="#000"/><rect x="959" y="203" width="5" height="12" fill="#000"/><rect x="969" y="206" width="1" height="19" fill="#000"/><rect x="967" y="209" width="5" height="7" fill="#000"/><rect x="968" y="210" width="3" height="5" fill="#fff"/><rect x="977" y="243" width="1" height="38" fill="#000"/><rect x="975" y="260" width="5" height="13" fill="#000"/><rect x="985" y="245" width="1" height="31" fill="#000"/><rect x="983" y="252" width="5" height="23" fill="#000"/><rect x="984" y="253" width="3" height="21" fill="#fff"/><rect x="993" y="238" width="1" height="25" fill="#000"/><rect x="991" y="252" width="5" height="5" fill="#000"/><rect x="1001" y="254" width="1" height="19" fill="#000"/><rect x="999" y="257" width="5" height="6" fill="#000"/><rect x="1009" y="278" width="1" height="28" fill="#000"/><rect x="1007" y="292" width="5" height="5" fill="#000"/><rect x="1008" y="293" width="3" height="3" fill="#fff"/><rect x="1017" y="289" width="1" height="23" fill="#000"/><rect x="1015" y="292" width="5" height="19" fill="#000"/><rect x="1025" y="290" width="1" height="25" fill="#000"/><rect x="1023" y="301" width="5" height="8" fill="#000"/><rect x="1024" y="302" width="3" height="6" fill="#fff"/><rect x="1033" y="270" width="1" height="36" fill="#000"/><rect x="1031" y="293" width="5" height="12" fill="#000"/><rect x="1032" y="294" width="3" height="10" fill="#fff"/><rect x="1041" y="287" width="1" height="30" fill="#000"/><rect x="1039" y="290" width="5" height="4" fill="#000"/><rect x="1040" y="291" width="3" height="2" fill="#fff"/><rect x="1049" y="282" width="1" height="16" fill="#000"/><rect x="1047" y="285" width="5" height="6" fill="#000"/><rect x="1048" y="286" width="3" height="4" fill="#fff"/><rect x="1057" y="321" width="1" height="44" fill="#000"/><rect x="1055" y="321" width="5" height="42" fill="#000"/><rect x="1065" y="361" width="1" height="25" fill="#000"/><rect x="1063" y="361" width="5" height="23" fill="#000"/><rect x="1073" y="368" width="1" height="41" fill="#000"/><rect x="1071" y="395" width="5" height="6" fill="#000"/><rect x="1072" y="396" width="3" height="4" fill="#fff"/><rect x="1081" y="396" width="1" height="27" fill="#000"/><rect x="1079" y="401" width="5" height="22" fill="#000"/><rect x="1089" y="405" width="1" height="52" fill="#000"/><rect x="1087" y="408" width="5" height="40" fill="#000"/><rect x="1097" y="444" width="1" height="63" fill="#000"/><rect x="1095" y="448" width="5" height="9" fill="#000"/><rect x="1105" y="407" width="1" height="54" fill="#000"/><rect x="1103" y="414" width="5" height="39" fill="#000"/><rect x="1104" y="415" width="3" height="37" fill="#fff"/><rect x="1113" y="403" width="1" height="44" fill="#000"/><rect x="1111" y="411" width="5" height="30" fill="#000"/><rect x="1121" y="414" width="1" height="46" fill="#000"/><rect x="1119" y="425" width="5" height="32" fill="#000"/><rect x="1120" y="426" width="3" height="30" fill="#fff"/><rect x="1129" y="412" width="1" height="25" fill="#000"/><rect x="1127" y="420" width="5" height="8" fill="#000"/><rect x="1128" y="421" width="3" height="6" fill="#fff"/><rect x="1137" y="429" width="1" height="38" fill="#000"/><rect x="1135" y="435" width="5" height="4" fill="#000"/><rect x="1145" y="406" width="1" height="39" fill="#000"/><rect x="1143" y="414" width="5" height="27" fill="#000"/><rect x="1144" y="415" width="3" height="25" fill="#fff"/><rect x="1153" y="437" width="1" height="37" fill="#000"/><rect x="1151" y="456" width="5" height="11" fill="#000"/><rect x="1152" y="457" width="3" height="9" fill="#fff"/><rect x="1161" y="452" width="1" height="28" fill="#000"/><rect x="1159" y="456" width="5" height="21" fill="#000"/><rect x="1169" y="418" width="1" height="36" fill="#000"/><rect x="1167" y="425" width="5" height="6" fill="#000"/><rect x="1177" y="382" width="1" height="47" fill="#000"/><rect x="1175" y="384" width="5" height="45" fill="#000"/><rect x="1176" y="385" width="3" height="43" fill="#fff"/><rect x="1185" y="368" width="1" height="31" fill="#000"/><rect x="1183" y="373" width="5" height="20" fill="#000"/><rect x="1193" y="380" width="1" height="17" fill="#000"/><rect x="1191" y="385" width="5" height="8" fill="#000"/><rect x="1192" y="386" width="3" height="6" fill="#fff"/><rect x="1201" y="341" width="1" height="24" fill="#000"/><rect x="1199" y="357" width="5" height="8" fill="#000"/><rect x="1200" y="358" width="3" height="6" fill="#fff"/><rect x="1209" y="346" width="1" height="21" fill="#000"/><rect x="1207" y="358" width="5" height="8" fill="#000"/><rect x="1217" y="356" width="1" height="35" fill="#000"/><rect x="1215" y="366" width="5" height="20" fill="#000"/><rect x="1216" y="367" width="3" height="18" fill="#fff"/><rect x="1225" y="368" width="1" height="30" fill="#000"/><rect x="1223" y="368" width="5" height="23" fill="#000"/><rect x="1233" y="334" width="1" height="33" fill="#000"/><rect x="1231" y="354" width="5" height="6" fill="#000"/><rect x="1232" y="355" width="3" height="4" fill="#fff"/><rect x="1241" y="351" width="1" height="45" fill="#000"/><rect x="1239" y="354" width="5" height="31" fill="#000"/><rect x="1249" y="410" width="1" height="29" fill="#000"/><rect x="1247" y="428" width="5" height="5" fill="#000"/><rect x="1257" y="428" width="1" height="19" fill="#000"/><rect x="1255" y="432" width="5" height="9" fill="#000"/><rect x="1265" y="419" width="1" height="28" fill="#000"/><rect x="1263" y="426" width="5" height="3" fill="#000"/><rect x="1273" y="429" width="1" height="49" fill="#000"/><rect x="1271" y="429" width="5" height="38" fill="#000"/><rect x="1281" y="469" width="1" height="33" fill="#000"/><rect x="1279" y="481" width="5" height="7" fill="#000"/><rect x="1289" y="448" width="1" height="39" fill="#000"/><rect x="1287" y="455" width="5" height="32" fill="#000"/><rect x="1288" y="456" width="3" height="30" fill="#fff"/><rect x="1297" y="445" width="1" height="56" fill="#000"/><rect x="1295" y="457" width="5" height="42" fill="#000"/><rect x="1305" y="479" width="1" height="26" fill="#000"/><rect x="1303" y="495" width="5" height="8" fill="#000"/><rect x="1313" y="496" width="1" height="44" fill="#000"/><rect x="1311" y="505" width="5" height="34" fill="#000"/><rect x="1321" y="524" width="1" height="43" fill="#000"/><rect x="1319" y="538" width="5" height="12" fill="#000"/><rect x="1329" y="530" width="1" height="25" fill="#000"/><rect x="1327" y="536" width="5" height="7" fill="#000"/><rect x="1328" y="537" width="3" height="5" fill="#fff"/><rect x="1337" y="508" width="1" height="32" fill="#000"/><rect x="1335" y="533" width="5" height="4" fill="#000"/><rect x="1336" y="534" width="3" height="2" fill="#fff"/><rect x="1345" y="487" width="1" height="31" fill="#000"/><rect x="1343" y="491" width="5" height="24" fill="#000"/><rect x="1353" y="503" width="1" height="21" fill="#000"/><rect x="1351" y="508" width="5" height="7" fill="#000"/><rect x="1352" y="509" width="3" height="5" fill="#fff"/><rect x="1361" y="485" width="1" height="33" fill="#000"/><rect x="1359" y="498" width="5" height="3" fill="#000"/><rect x="1369" y="488" width="1" height="17" fill="#000"/><rect x="1367" y="498" width="5" height="3" fill="#000"/><rect x="1368" y="499" width="3" height="1" fill="#fff"/><rect x="1377" y="464" width="1" height="28" fill="#000"/><rect x="1375" y="472" width="5" height="16" fill="#000"/><rect x="1385" y="474" width="1" height="33" fill="#000"/><rect x="1383" y="477" width="5" height="13" fill="#000"/><rect x="1393" y="469" width="1" height="28" fill="#000"/><rect x="1391" y="471" width="5" height="26" fill="#000"/><rect x="1392" y="472" width="3" height="24" fill="#fff"/><rect x="1401" y="479" width="1" height="35" fill="#000"/><rect x="1399" y="483" width="5" height="28" fill="#000"/><rect x="1409" y="505" width="1" height="17" fill="#000"/><rect x="1407" y="509" width="5" height="5" fill="#000"/><rect x="1417" y="487" width="1" height="30" fill="#000"/><rect x="1415" y="501" width="5" height="10" fill="#000"/><rect x="1416" y="502" width="3" height="8" fill="#fff"/><rect x="1425" y="498" width="1" height="28" fill="#000"/><rect x="1423" y="501" width="5" height="4" fill="#000"/></g><rect x="1346" y="491" width="166" height="7" fill="#00ff00" shape-rendering="crispEdges"/><g clip-path="url(#cm)"><g shape-rendering="crispEdges" fill="#ff0000"><rect x="1224" y="334" width="9" height="1"/><rect x="474" y="433" width="10" height="1"/><rect x="1088" y="506" width="9" height="1"/><rect x="1368" y="464" width="9" height="1"/><rect x="1312" y="566" width="9" height="1"/><rect x="1162" y="494" width="7" height="1"/></g><rect x="1169.5" y="492.5" width="3" height="3" fill="#fff" stroke="#ff0000" shape-rendering="crispEdges"/><rect x="1162.5" y="325.5" width="61" height="18" fill="#fff" stroke="#ff0000" stroke-width="1" shape-rendering="crispEdges"/><text x="1193.0" y="340.8" font-size="16.5" fill="#ff0000" text-anchor="middle" textLength="58" lengthAdjust="spacingAndGlyphs">24376.1</text><rect x="484.5" y="424.5" width="60" height="18" fill="#fff" stroke="#ff0000" stroke-width="1" shape-rendering="crispEdges"/><text x="514.5" y="439.8" font-size="16.5" fill="#ff0000" text-anchor="middle" textLength="58" lengthAdjust="spacingAndGlyphs">23641.4</text><rect x="1026.5" y="497.5" width="61" height="18" fill="#fff" stroke="#ff0000" stroke-width="1" shape-rendering="crispEdges"/><text x="1057.0" y="512.8" font-size="16.5" fill="#ff0000" text-anchor="middle" textLength="58" lengthAdjust="spacingAndGlyphs">23094.5</text><rect x="1306.5" y="455.5" width="61" height="18" fill="#fff" stroke="#ff0000" stroke-width="1" shape-rendering="crispEdges"/><text x="1337.0" y="470.8" font-size="16.5" fill="#ff0000" text-anchor="middle" textLength="58" lengthAdjust="spacingAndGlyphs">23411.5</text><rect x="1250.5" y="557.5" width="61" height="18" fill="#fff" stroke="#ff0000" stroke-width="1" shape-rendering="crispEdges"/><text x="1281.0" y="572.8" font-size="16.5" fill="#ff0000" text-anchor="middle" textLength="58" lengthAdjust="spacingAndGlyphs">22655.0</text><rect x="1172.5" y="482.5" width="73" height="24" fill="#fff" stroke="#ff0000" stroke-width="1" shape-rendering="crispEdges"/><text x="1209.0" y="503" font-size="23" fill="#ff0000" text-anchor="middle" textLength="70.5" lengthAdjust="spacingAndGlyphs">23189.0</text></g><line x1="1376" y1="471" x2="1434.6" y2="523.8" stroke="#ff0000" stroke-width="3.2" stroke-linecap="round"/><path d="M1442 530.5 L1429.7 526.2 L1436.4 518.8 Z" fill="#ff0000"/><rect x="1648.5" y="446.5" width="3" height="3" fill="#fff" stroke="#ff0000" stroke-width="1" shape-rendering="crispEdges"/><rect x="1648.5" y="469.5" width="3" height="3" fill="#fff" stroke="#ff0000" stroke-width="1" shape-rendering="crispEdges"/><rect x="1648.5" y="492.5" width="3" height="3" fill="#fff" stroke="#32cd32" stroke-width="1" shape-rendering="crispEdges"/><rect x="1648.5" y="547.5" width="3" height="3" fill="#fff" stroke="#0000ff" stroke-width="1" shape-rendering="crispEdges"/><path d="M1431 26 H1440 L1435.5 31 Z" fill="#c0c0c0"/><g shape-rendering="crispEdges" fill="#000"><rect x="0" y="25" width="1653" height="1"/><rect x="0" y="578" width="1653" height="1"/><rect x="0" y="580" width="1653" height="1"/><rect x="0" y="750" width="1653" height="1"/><rect x="0" y="752" width="1653" height="1"/><rect x="0" y="926" width="1653" height="1"/><rect x="1652" y="25" width="1" height="902"/><rect x="1698" y="23" width="1" height="921" fill="#e3e3e3"/></g><g><rect x="1652" y="47" width="3" height="1" fill="#000" shape-rendering="crispEdges"/><text x="1658" y="51.5" font-size="10" fill="#000" text-anchor="start" textLength="33.0" lengthAdjust="spacingAndGlyphs">26507.0</text><rect x="1652" y="80" width="3" height="1" fill="#000" shape-rendering="crispEdges"/><text x="1658" y="84.5" font-size="10" fill="#000" text-anchor="start" textLength="33.0" lengthAdjust="spacingAndGlyphs">26262.0</text><rect x="1652" y="113" width="3" height="1" fill="#000" shape-rendering="crispEdges"/><text x="1658" y="117.5" font-size="10" fill="#000" text-anchor="start" textLength="33.0" lengthAdjust="spacingAndGlyphs">26017.0</text><rect x="1652" y="146" width="3" height="1" fill="#000" shape-rendering="crispEdges"/><text x="1658" y="150.5" font-size="10" fill="#000" text-anchor="start" textLength="33.0" lengthAdjust="spacingAndGlyphs">25772.0</text><rect x="1652" y="179" width="3" height="1" fill="#000" shape-rendering="crispEdges"/><text x="1658" y="183.5" font-size="10" fill="#000" text-anchor="start" textLength="33.0" lengthAdjust="spacingAndGlyphs">25527.0</text><rect x="1652" y="212" width="3" height="1" fill="#000" shape-rendering="crispEdges"/><text x="1658" y="216.5" font-size="10" fill="#000" text-anchor="start" textLength="33.0" lengthAdjust="spacingAndGlyphs">25282.0</text><rect x="1652" y="245" width="3" height="1" fill="#000" shape-rendering="crispEdges"/><text x="1658" y="249.5" font-size="10" fill="#000" text-anchor="start" textLength="33.0" lengthAdjust="spacingAndGlyphs">25037.0</text><rect x="1652" y="278" width="3" height="1" fill="#000" shape-rendering="crispEdges"/><text x="1658" y="282.5" font-size="10" fill="#000" text-anchor="start" textLength="33.0" lengthAdjust="spacingAndGlyphs">24792.0</text><rect x="1652" y="311" width="3" height="1" fill="#000" shape-rendering="crispEdges"/><text x="1658" y="315.5" font-size="10" fill="#000" text-anchor="start" textLength="33.0" lengthAdjust="spacingAndGlyphs">24547.0</text><rect x="1652" y="344" width="3" height="1" fill="#000" shape-rendering="crispEdges"/><text x="1658" y="348.5" font-size="10" fill="#000" text-anchor="start" textLength="33.0" lengthAdjust="spacingAndGlyphs">24302.0</text><rect x="1652" y="377" width="3" height="1" fill="#000" shape-rendering="crispEdges"/><text x="1658" y="381.5" font-size="10" fill="#000" text-anchor="start" textLength="33.0" lengthAdjust="spacingAndGlyphs">24057.0</text><rect x="1652" y="410" width="3" height="1" fill="#000" shape-rendering="crispEdges"/><text x="1658" y="414.5" font-size="10" fill="#000" text-anchor="start" textLength="33.0" lengthAdjust="spacingAndGlyphs">23812.0</text><rect x="1652" y="443" width="3" height="1" fill="#000" shape-rendering="crispEdges"/><text x="1658" y="447.5" font-size="10" fill="#000" text-anchor="start" textLength="33.0" lengthAdjust="spacingAndGlyphs">23567.0</text><rect x="1652" y="476" width="3" height="1" fill="#000" shape-rendering="crispEdges"/><text x="1658" y="480.5" font-size="10" fill="#000" text-anchor="start" textLength="33.0" lengthAdjust="spacingAndGlyphs">23322.0</text><rect x="1652" y="509" width="3" height="1" fill="#000" shape-rendering="crispEdges"/><text x="1658" y="513.5" font-size="10" fill="#000" text-anchor="start" textLength="33.0" lengthAdjust="spacingAndGlyphs">23077.0</text><rect x="1652" y="542" width="3" height="1" fill="#000" shape-rendering="crispEdges"/><text x="1658" y="546.5" font-size="10" fill="#000" text-anchor="start" textLength="33.0" lengthAdjust="spacingAndGlyphs">22832.0</text><rect x="1652" y="575" width="3" height="1" fill="#000" shape-rendering="crispEdges"/><text x="1658" y="579.5" font-size="10" fill="#000" text-anchor="start" textLength="33.0" lengthAdjust="spacingAndGlyphs">22587.0</text></g><rect x="1654" y="443" width="41" height="11" fill="#ff0000" shape-rendering="crispEdges"/><text x="1658" y="452" font-size="10.5" fill="#fff" text-anchor="start" textLength="33.0" lengthAdjust="spacingAndGlyphs">23530.2</text><rect x="1654" y="466" width="41" height="11" fill="#ff0000" shape-rendering="crispEdges"/><text x="1658" y="475" font-size="10.5" fill="#fff" text-anchor="start" textLength="33.0" lengthAdjust="spacingAndGlyphs">23359.6</text><rect x="1654" y="489" width="41" height="11" fill="#32cd32" shape-rendering="crispEdges"/><text x="1658" y="498" font-size="10.5" fill="#fff" text-anchor="start" textLength="33.0" lengthAdjust="spacingAndGlyphs">23189.0</text><rect x="1654" y="499" width="41" height="11" fill="#000000" shape-rendering="crispEdges"/><text x="1658" y="508" font-size="10.5" fill="#fff" text-anchor="start" textLength="33.0" lengthAdjust="spacingAndGlyphs">23112.5</text><rect x="1654" y="524" width="41" height="11" fill="#0000ff" shape-rendering="crispEdges"/><text x="1658" y="533" font-size="10.5" fill="#fff" text-anchor="start" textLength="33.0" lengthAdjust="spacingAndGlyphs">22929.4</text><rect x="1654" y="544" width="41" height="11" fill="#0000ff" shape-rendering="crispEdges"/><text x="1658" y="553" font-size="10.5" fill="#fff" text-anchor="start" textLength="33.0" lengthAdjust="spacingAndGlyphs">22781.1</text><text x="-2" y="593" font-size="10.5" fill="#000" text-anchor="start" textLength="131.4" lengthAdjust="spacingAndGlyphs">MACD(12,26,9) -154.09 -198.51</text><text x="1656" y="591" font-size="10.5" fill="#000" text-anchor="start" textLength="28.1" lengthAdjust="spacingAndGlyphs">433.23</text><rect x="1653" y="582" width="2" height="1" fill="#000" shape-rendering="crispEdges"/><rect x="1653" y="660" width="2" height="1" fill="#000" shape-rendering="crispEdges"/><rect x="1653" y="749" width="2" height="1" fill="#000" shape-rendering="crispEdges"/><rect x="1653" y="754" width="2" height="1" fill="#000" shape-rendering="crispEdges"/><text x="1656" y="664" font-size="10.5" fill="#000" text-anchor="start" textLength="17.9" lengthAdjust="spacingAndGlyphs">0.00</text><text x="1656" y="747" font-size="10.5" fill="#000" text-anchor="start" textLength="31.2" lengthAdjust="spacingAndGlyphs">-491.94</text><g clip-path="url(#c1)" shape-rendering="crispEdges" fill="#c0c0c0"><rect x="1" y="660" width="1" height="67"/><rect x="9" y="660" width="1" height="65"/><rect x="17" y="660" width="1" height="67"/><rect x="25" y="660" width="1" height="61"/><rect x="33" y="660" width="1" height="54"/><rect x="41" y="660" width="1" height="48"/><rect x="49" y="660" width="1" height="42"/><rect x="57" y="660" width="1" height="42"/><rect x="65" y="660" width="1" height="40"/><rect x="73" y="660" width="1" height="37"/><rect x="81" y="660" width="1" height="38"/><rect x="89" y="660" width="1" height="36"/><rect x="97" y="660" width="1" height="34"/><rect x="105" y="660" width="1" height="36"/><rect x="113" y="660" width="1" height="28"/><rect x="121" y="660" width="1" height="19"/><rect x="129" y="660" width="1" height="12"/><rect x="137" y="660" width="1" height="5"/><rect x="145" y="658" width="1" height="3"/><rect x="153" y="656" width="1" height="5"/><rect x="161" y="654" width="1" height="7"/><rect x="169" y="651" width="1" height="10"/><rect x="177" y="648" width="1" height="13"/><rect x="185" y="643" width="1" height="18"/><rect x="193" y="639" width="1" height="22"/><rect x="201" y="639" width="1" height="22"/><rect x="209" y="637" width="1" height="24"/><rect x="217" y="641" width="1" height="20"/><rect x="225" y="647" width="1" height="14"/><rect x="233" y="645" width="1" height="16"/><rect x="241" y="643" width="1" height="18"/><rect x="249" y="649" width="1" height="12"/><rect x="257" y="652" width="1" height="9"/><rect x="265" y="655" width="1" height="6"/><rect x="273" y="660" width="1" height="3"/><rect x="281" y="660" width="1" height="11"/><rect x="289" y="660" width="1" height="20"/><rect x="297" y="660" width="1" height="35"/><rect x="305" y="660" width="1" height="44"/><rect x="313" y="660" width="1" height="49"/><rect x="321" y="660" width="1" height="51"/><rect x="329" y="660" width="1" height="65"/><rect x="337" y="660" width="1" height="74"/><rect x="345" y="660" width="1" height="80"/><rect x="353" y="660" width="1" height="82"/><rect x="361" y="660" width="1" height="80"/><rect x="369" y="660" width="1" height="75"/><rect x="377" y="660" width="1" height="72"/><rect x="385" y="660" width="1" height="72"/><rect x="393" y="660" width="1" height="70"/><rect x="401" y="660" width="1" height="70"/><rect x="409" y="660" width="1" height="63"/><rect x="417" y="660" width="1" height="59"/><rect x="425" y="660" width="1" height="56"/><rect x="433" y="660" width="1" height="50"/><rect x="441" y="660" width="1" height="47"/><rect x="449" y="660" width="1" height="42"/><rect x="457" y="660" width="1" height="46"/><rect x="465" y="660" width="1" height="49"/><rect x="473" y="660" width="1" height="48"/><rect x="481" y="660" width="1" height="48"/><rect x="489" y="660" width="1" height="49"/><rect x="497" y="660" width="1" height="49"/><rect x="505" y="660" width="1" height="40"/><rect x="513" y="660" width="1" height="31"/><rect x="521" y="660" width="1" height="24"/><rect x="529" y="660" width="1" height="15"/><rect x="537" y="660" width="1" height="1"/><rect x="545" y="649" width="1" height="12"/><rect x="553" y="645" width="1" height="16"/><rect x="561" y="643" width="1" height="18"/><rect x="569" y="641" width="1" height="20"/><rect x="577" y="637" width="1" height="24"/><rect x="585" y="632" width="1" height="29"/><rect x="593" y="630" width="1" height="31"/><rect x="601" y="625" width="1" height="36"/><rect x="609" y="618" width="1" height="43"/><rect x="617" y="612" width="1" height="49"/><rect x="625" y="603" width="1" height="58"/><rect x="633" y="595" width="1" height="66"/><rect x="641" y="592" width="1" height="69"/><rect x="649" y="591" width="1" height="70"/><rect x="657" y="590" width="1" height="71"/><rect x="665" y="589" width="1" height="72"/><rect x="673" y="589" width="1" height="72"/><rect x="681" y="590" width="1" height="71"/><rect x="689" y="593" width="1" height="68"/><rect x="697" y="596" width="1" height="65"/><rect x="705" y="605" width="1" height="56"/><rect x="713" y="614" width="1" height="47"/><rect x="721" y="621" width="1" height="40"/><rect x="729" y="629" width="1" height="32"/><rect x="737" y="636" width="1" height="25"/><rect x="745" y="643" width="1" height="18"/><rect x="753" y="653" width="1" height="8"/><rect x="761" y="659" width="1" height="2"/><rect x="769" y="660" width="1" height="3"/><rect x="777" y="660" width="1" height="9"/><rect x="785" y="660" width="1" height="17"/><rect x="793" y="660" width="1" height="19"/><rect x="801" y="660" width="1" height="21"/><rect x="809" y="660" width="1" height="20"/><rect x="817" y="660" width="1" height="22"/><rect x="825" y="660" width="1" height="25"/><rect x="833" y="660" width="1" height="29"/><rect x="841" y="660" width="1" height="31"/><rect x="849" y="660" width="1" height="33"/><rect x="857" y="660" width="1" height="34"/><rect x="865" y="660" width="1" height="38"/><rect x="873" y="660" width="1" height="33"/><rect x="881" y="660" width="1" height="30"/><rect x="889" y="660" width="1" height="24"/><rect x="897" y="660" width="1" height="17"/><rect x="905" y="660" width="1" height="11"/><rect x="913" y="660" width="1" height="7"/><rect x="921" y="660" width="1" height="2"/><rect x="929" y="654" width="1" height="7"/><rect x="937" y="648" width="1" height="13"/><rect x="945" y="645" width="1" height="16"/><rect x="953" y="641" width="1" height="20"/><rect x="961" y="644" width="1" height="17"/><rect x="969" y="646" width="1" height="15"/><rect x="977" y="654" width="1" height="7"/><rect x="985" y="658" width="1" height="3"/><rect x="993" y="660" width="1" height="3"/><rect x="1001" y="660" width="1" height="7"/><rect x="1009" y="660" width="1" height="13"/><rect x="1017" y="660" width="1" height="19"/><rect x="1025" y="660" width="1" height="23"/><rect x="1033" y="660" width="1" height="25"/><rect x="1041" y="660" width="1" height="26"/><rect x="1049" y="660" width="1" height="26"/><rect x="1057" y="660" width="1" height="34"/><rect x="1065" y="660" width="1" height="42"/><rect x="1073" y="660" width="1" height="49"/><rect x="1081" y="660" width="1" height="57"/><rect x="1089" y="660" width="1" height="65"/><rect x="1097" y="660" width="1" height="72"/><rect x="1105" y="660" width="1" height="72"/><rect x="1113" y="660" width="1" height="74"/><rect x="1121" y="660" width="1" height="73"/><rect x="1129" y="660" width="1" height="71"/><rect x="1137" y="660" width="1" height="71"/><rect x="1145" y="660" width="1" height="67"/><rect x="1153" y="660" width="1" height="68"/><rect x="1161" y="660" width="1" height="70"/><rect x="1169" y="660" width="1" height="65"/><rect x="1177" y="660" width="1" height="57"/><rect x="1185" y="660" width="1" height="50"/><rect x="1193" y="660" width="1" height="43"/><rect x="1201" y="660" width="1" height="35"/><rect x="1209" y="660" width="1" height="28"/><rect x="1217" y="660" width="1" height="23"/><rect x="1225" y="660" width="1" height="21"/><rect x="1233" y="660" width="1" height="16"/><rect x="1241" y="660" width="1" height="15"/><rect x="1249" y="660" width="1" height="19"/><rect x="1257" y="660" width="1" height="23"/><rect x="1265" y="660" width="1" height="24"/><rect x="1273" y="660" width="1" height="29"/><rect x="1281" y="660" width="1" height="35"/><rect x="1289" y="660" width="1" height="36"/><rect x="1297" y="660" width="1" height="40"/><rect x="1305" y="660" width="1" height="44"/><rect x="1313" y="660" width="1" height="50"/><rect x="1321" y="660" width="1" height="56"/><rect x="1329" y="660" width="1" height="58"/><rect x="1337" y="660" width="1" height="59"/><rect x="1345" y="660" width="1" height="57"/><rect x="1353" y="660" width="1" height="54"/><rect x="1361" y="660" width="1" height="51"/><rect x="1369" y="660" width="1" height="47"/><rect x="1377" y="660" width="1" height="42"/><rect x="1385" y="660" width="1" height="38"/><rect x="1393" y="660" width="1" height="33"/><rect x="1401" y="660" width="1" height="33"/><rect x="1409" y="660" width="1" height="32"/><rect x="1417" y="660" width="1" height="30"/><rect x="1425" y="660" width="1" height="29"/></g><g clip-path="url(#c1)"><polyline points="1.5,695.5 9.5,701.5 17.5,706.5 25.5,710.5 33.5,713.5 41.5,715.5 49.5,716.5 57.5,715.5 65.5,713.5 73.5,710.5 81.5,706.5 89.5,703.5 97.5,700.5 105.5,698.5 113.5,696.5 121.5,693.5 129.5,690.5 137.5,686.5 145.5,682.5 153.5,678.5 161.5,673.5 169.5,668.5 177.5,663.5 185.5,658.5 193.5,654.5 201.5,650.5 209.5,647.5 217.5,645.5 225.5,644.5 233.5,643.5 241.5,642.5 249.5,643.5 257.5,644.5 265.5,645.5 273.5,648.5 281.5,652.5 289.5,656.5 297.5,661.5 305.5,667.5 313.5,675.5 321.5,681.5 329.5,689.5 337.5,698.5 345.5,706.5 353.5,714.5 361.5,721.5 369.5,726.5 377.5,729.5 385.5,731.5 393.5,734.5 401.5,734.5 409.5,733.5 417.5,731.5 425.5,728.5 433.5,724.5 441.5,721.5 449.5,718.5 457.5,715.5 465.5,713.5 473.5,710.5 481.5,708.5 489.5,707.5 497.5,707.5 505.5,705.5 513.5,704.5 521.5,702.5 529.5,698.5 537.5,693.5 545.5,686.5 553.5,680.5 561.5,672.5 569.5,665.5 577.5,658.5 585.5,652.5 593.5,646.5 601.5,640.5 609.5,636.5 617.5,631.5 625.5,627.5 633.5,622.5 641.5,616.5 649.5,611.5 657.5,606.5 665.5,602.5 673.5,598.5 681.5,595.5 689.5,592.5 697.5,592.5 705.5,593.5 713.5,595.5 721.5,598.5 729.5,603.5 737.5,608.5 745.5,614.5 753.5,621.5 761.5,629.5 769.5,636.5 777.5,643.5 785.5,650.5 793.5,656.5 801.5,662.5 809.5,666.5 817.5,671.5 825.5,674.5 833.5,677.5 841.5,680.5 849.5,683.5 857.5,685.5 865.5,687.5 873.5,688.5 881.5,690.5 889.5,690.5 897.5,689.5 905.5,687.5 913.5,684.5 921.5,681.5 929.5,676.5 937.5,671.5 945.5,666.5 953.5,661.5 961.5,656.5 969.5,653.5 977.5,651.5 985.5,650.5 993.5,650.5 1001.5,652.5 1009.5,654.5 1017.5,658.5 1025.5,663.5 1033.5,667.5 1041.5,671.5 1049.5,675.5 1057.5,679.5 1065.5,683.5 1073.5,688.5 1081.5,693.5 1089.5,698.5 1097.5,703.5 1105.5,708.5 1113.5,714.5 1121.5,719.5 1129.5,723.5 1137.5,726.5 1145.5,728.5 1153.5,729.5 1161.5,730.5 1169.5,729.5 1177.5,727.5 1185.5,725.5 1193.5,721.5 1201.5,717.5 1209.5,713.5 1217.5,708.5 1225.5,703.5 1233.5,697.5 1241.5,691.5 1249.5,687.5 1257.5,684.5 1265.5,682.5 1273.5,681.5 1281.5,682.5 1289.5,683.5 1297.5,685.5 1305.5,688.5 1313.5,692.5 1321.5,696.5 1329.5,700.5 1337.5,704.5 1345.5,707.5 1353.5,710.5 1361.5,711.5 1369.5,712.5 1377.5,712.5 1385.5,710.5 1393.5,708.5 1401.5,705.5 1409.5,702.5 1417.5,699.5 1425.5,696.5" fill="none" stroke="#ff0000" stroke-width="1" stroke-dasharray="3 3" shape-rendering="crispEdges"/></g><line x1="1396" y1="688.5" x2="1437.0" y2="691.0" stroke="#ff0000" stroke-width="2.8" stroke-linecap="round"/><path d="M1446 691.5 L1434.7 695.8 L1435.3 685.9 Z" fill="#ff0000"/><text x="-3" y="765" font-size="10.5" fill="#000" text-anchor="start" textLength="67.5" lengthAdjust="spacingAndGlyphs">RSI(14) 42.9778</text><line x1="0" y1="788.5" x2="1652" y2="788.5" stroke="#c0c0c0" stroke-dasharray="3 3" shape-rendering="crispEdges"/><line x1="0" y1="839.5" x2="1652" y2="839.5" stroke="#c0c0c0" stroke-dasharray="3 3" shape-rendering="crispEdges"/><line x1="0" y1="900.5" x2="1652" y2="900.5" stroke="#c0c0c0" stroke-dasharray="3 3" shape-rendering="crispEdges"/><text x="1655" y="764" font-size="10.5" fill="#000" text-anchor="start" textLength="15.3" lengthAdjust="spacingAndGlyphs">100</text><text x="1655" y="792" font-size="10.5" fill="#000" text-anchor="start" textLength="10.2" lengthAdjust="spacingAndGlyphs">80</text><text x="1655" y="843" font-size="10.5" fill="#000" text-anchor="start" textLength="10.2" lengthAdjust="spacingAndGlyphs">50</text><text x="1655" y="904" font-size="10.5" fill="#000" text-anchor="start" textLength="10.2" lengthAdjust="spacingAndGlyphs">15</text><text x="1655" y="923" font-size="10.5" fill="#000" text-anchor="start" textLength="5.1" lengthAdjust="spacingAndGlyphs">0</text><g clip-path="url(#c2)"><polyline points="1.5,879.5 9.5,857.5 17.5,862.5 25.5,849.5 33.5,844.5 41.5,845.5 49.5,842.5 57.5,853.5 65.5,849.5 73.5,848.5 81.5,854.5 89.5,850.5 97.5,847.5 105.5,857.5 113.5,835.5 121.5,831.5 129.5,830.5 137.5,829.5 145.5,828.5 153.5,834.5 161.5,834.5 169.5,830.5 177.5,826.5 185.5,822.5 193.5,822.5 201.5,828.5 209.5,825.5 217.5,840.5 225.5,848.5 233.5,831.5 241.5,829.5 249.5,847.5 257.5,842.5 265.5,844.5 273.5,853.5 281.5,858.5 289.5,864.5 297.5,875.5 305.5,869.5 313.5,865.5 321.5,860.5 329.5,878.5 337.5,873.5 345.5,874.5 353.5,867.5 361.5,860.5 369.5,855.5 377.5,856.5 385.5,863.5 393.5,860.5 401.5,862.5 409.5,850.5 417.5,851.5 425.5,855.5 433.5,847.5 441.5,850.5 449.5,846.5 457.5,861.5 465.5,861.5 473.5,856.5 481.5,857.5 489.5,860.5 497.5,859.5 505.5,838.5 513.5,834.5 521.5,835.5 529.5,827.5 537.5,814.5 545.5,817.5 553.5,826.5 561.5,831.5 569.5,829.5 577.5,824.5 585.5,819.5 593.5,824.5 601.5,817.5 609.5,811.5 617.5,809.5 625.5,802.5 633.5,801.5 641.5,807.5 649.5,811.5 657.5,808.5 665.5,807.5 673.5,807.5 681.5,806.5 689.5,813.5 697.5,813.5 705.5,838.5 713.5,838.5 721.5,840.5 729.5,846.5 737.5,847.5 745.5,851.5 753.5,862.5 761.5,858.5 769.5,847.5 777.5,859.5 785.5,865.5 793.5,854.5 801.5,853.5 809.5,845.5 817.5,855.5 825.5,858.5 833.5,862.5 841.5,862.5 849.5,863.5 857.5,859.5 865.5,870.5 873.5,842.5 881.5,845.5 889.5,835.5 897.5,831.5 905.5,830.5 913.5,833.5 921.5,828.5 929.5,819.5 937.5,819.5 945.5,824.5 953.5,821.5 961.5,839.5 969.5,837.5 977.5,855.5 985.5,849.5 993.5,850.5 1001.5,851.5 1009.5,859.5 1017.5,863.5 1025.5,860.5 1033.5,857.5 1041.5,855.5 1049.5,853.5 1057.5,872.5 1065.5,876.5 1073.5,878.5 1081.5,883.5 1089.5,886.5 1097.5,888.5 1105.5,869.5 1113.5,874.5 1121.5,868.5 1129.5,866.5 1137.5,869.5 1145.5,860.5 1153.5,869.5 1161.5,872.5 1169.5,856.5 1177.5,843.5 1185.5,845.5 1193.5,843.5 1201.5,835.5 1209.5,837.5 1217.5,838.5 1225.5,845.5 1233.5,834.5 1241.5,843.5 1249.5,854.5 1257.5,856.5 1265.5,853.5 1273.5,861.5 1281.5,865.5 1289.5,854.5 1297.5,863.5 1305.5,864.5 1313.5,870.5 1321.5,872.5 1329.5,867.5 1337.5,866.5 1345.5,859.5 1353.5,857.5 1361.5,854.5 1369.5,853.5 1377.5,848.5 1385.5,849.5 1393.5,842.5 1401.5,855.5 1409.5,855.5 1417.5,850.5 1425.5,852.5" fill="none" stroke="#1e90ff" stroke-width="1" shape-rendering="crispEdges"/></g><line x1="1381" y1="847.5" x2="1426.1" y2="854.8" stroke="#ff0000" stroke-width="2.6" stroke-linecap="round"/><path d="M1436 856.4 L1423.4 859.4 L1425.0 849.5 Z" fill="#ff0000"/><g><text x="-7.169499999999992" y="939" font-size="10.5" fill="#000" text-anchor="start" textLength="51.7" lengthAdjust="spacingAndGlyphs">20 Aug 2021</text><rect x="57" y="927" width="1" height="3" fill="#000" shape-rendering="crispEdges"/><text x="56.5" y="939" font-size="10.5" fill="#000" text-anchor="start" textLength="54.2" lengthAdjust="spacingAndGlyphs">26 Aug 01:15</text><rect x="121" y="927" width="1" height="3" fill="#000" shape-rendering="crispEdges"/><text x="120.5" y="939" font-size="10.5" fill="#000" text-anchor="start" textLength="49.6" lengthAdjust="spacingAndGlyphs">1 Sep 01:15</text><rect x="185" y="927" width="1" height="3" fill="#000" shape-rendering="crispEdges"/><text x="184.5" y="939" font-size="10.5" fill="#000" text-anchor="start" textLength="49.6" lengthAdjust="spacingAndGlyphs">7 Sep 01:15</text><rect x="249" y="927" width="1" height="3" fill="#000" shape-rendering="crispEdges"/><text x="248.5" y="939" font-size="10.5" fill="#000" text-anchor="start" textLength="54.7" lengthAdjust="spacingAndGlyphs">13 Sep 01:15</text><rect x="313" y="927" width="1" height="3" fill="#000" shape-rendering="crispEdges"/><text x="312.5" y="939" font-size="10.5" fill="#000" text-anchor="start" textLength="54.7" lengthAdjust="spacingAndGlyphs">17 Sep 01:15</text><rect x="377" y="927" width="1" height="3" fill="#000" shape-rendering="crispEdges"/><text x="376.5" y="939" font-size="10.5" fill="#000" text-anchor="start" textLength="54.7" lengthAdjust="spacingAndGlyphs">24 Sep 01:15</text><rect x="441" y="927" width="1" height="3" fill="#000" shape-rendering="crispEdges"/><text x="440.5" y="939" font-size="10.5" fill="#000" text-anchor="start" textLength="54.7" lengthAdjust="spacingAndGlyphs">30 Sep 01:15</text><rect x="505" y="927" width="1" height="3" fill="#000" shape-rendering="crispEdges"/><text x="504.5" y="939" font-size="10.5" fill="#000" text-anchor="start" textLength="47.6" lengthAdjust="spacingAndGlyphs">7 Oct 01:15</text><rect x="569" y="927" width="1" height="3" fill="#000" shape-rendering="crispEdges"/><text x="568.5" y="939" font-size="10.5" fill="#000" text-anchor="start" textLength="52.7" lengthAdjust="spacingAndGlyphs">13 Oct 01:15</text><rect x="633" y="927" width="1" height="3" fill="#000" shape-rendering="crispEdges"/><text x="632.5" y="939" font-size="10.5" fill="#000" text-anchor="start" textLength="52.7" lengthAdjust="spacingAndGlyphs">20 Oct 05:00</text><rect x="697" y="927" width="1" height="3" fill="#000" shape-rendering="crispEdges"/><text x="696.5" y="939" font-size="10.5" fill="#000" text-anchor="start" textLength="52.7" lengthAdjust="spacingAndGlyphs">26 Oct 05:00</text><rect x="761" y="927" width="1" height="3" fill="#000" shape-rendering="crispEdges"/><text x="760.5" y="939" font-size="10.5" fill="#000" text-anchor="start" textLength="49.6" lengthAdjust="spacingAndGlyphs">1 Nov 05:00</text><rect x="825" y="927" width="1" height="3" fill="#000" shape-rendering="crispEdges"/><text x="824.5" y="939" font-size="10.5" fill="#000" text-anchor="start" textLength="49.6" lengthAdjust="spacingAndGlyphs">5 Nov 05:00</text><rect x="889" y="927" width="1" height="3" fill="#000" shape-rendering="crispEdges"/><text x="888.5" y="939" font-size="10.5" fill="#000" text-anchor="start" textLength="54.0" lengthAdjust="spacingAndGlyphs">11 Nov 05:00</text><rect x="953" y="927" width="1" height="3" fill="#000" shape-rendering="crispEdges"/><text x="952.5" y="939" font-size="10.5" fill="#000" text-anchor="start" textLength="54.7" lengthAdjust="spacingAndGlyphs">17 Nov 05:00</text><rect x="1017" y="927" width="1" height="3" fill="#000" shape-rendering="crispEdges"/><text x="1016.5" y="939" font-size="10.5" fill="#000" text-anchor="start" textLength="54.7" lengthAdjust="spacingAndGlyphs">23 Nov 05:00</text><rect x="1081" y="927" width="1" height="3" fill="#000" shape-rendering="crispEdges"/><text x="1080.5" y="939" font-size="10.5" fill="#000" text-anchor="start" textLength="54.7" lengthAdjust="spacingAndGlyphs">29 Nov 05:00</text><rect x="1145" y="927" width="1" height="3" fill="#000" shape-rendering="crispEdges"/><text x="1144.5" y="939" font-size="10.5" fill="#000" text-anchor="start" textLength="49.6" lengthAdjust="spacingAndGlyphs">3 Dec 05:00</text><rect x="1209" y="927" width="1" height="3" fill="#000" shape-rendering="crispEdges"/><text x="1208.5" y="939" font-size="10.5" fill="#000" text-anchor="start" textLength="49.6" lengthAdjust="spacingAndGlyphs">9 Dec 05:00</text><rect x="1273" y="927" width="1" height="3" fill="#000" shape-rendering="crispEdges"/><text x="1272.5" y="939" font-size="10.5" fill="#000" text-anchor="start" textLength="54.7" lengthAdjust="spacingAndGlyphs">15 Dec 05:00</text><rect x="1337" y="927" width="1" height="3" fill="#000" shape-rendering="crispEdges"/><text x="1336.5" y="939" font-size="10.5" fill="#000" text-anchor="start" textLength="54.7" lengthAdjust="spacingAndGlyphs">21 Dec 05:00</text><rect x="1401" y="927" width="1" height="3" fill="#000" shape-rendering="crispEdges"/><text x="1400.5" y="939" font-size="10.5" fill="#000" text-anchor="start" textLength="54.7" lengthAdjust="spacingAndGlyphs">29 Dec 01:15</text></g><defs><linearGradient id="gb" x1="0" y1="0" x2="0" y2="1"><stop offset="0" stop-color="#f45a5a"/><stop offset="1" stop-color="#d92b2b"/></linearGradient><linearGradient id="gp" x1="0" y1="0" x2="0" y2="1"><stop offset="0" stop-color="#da3030"/><stop offset="1" stop-color="#ad0606"/></linearGradient><linearGradient id="gg" x1="0" y1="0" x2="0" y2="1"><stop offset="0" stop-color="#f2f2f2"/><stop offset="0.5" stop-color="#e6e6e6"/><stop offset="0.55" stop-color="#d8d8d8"/><stop offset="1" stop-color="#d2d2d2"/></linearGradient></defs><g shape-rendering="crispEdges"><rect x="0" y="45" width="48" height="24" fill="url(#gb)"/><rect x="0" y="69" width="105" height="33" fill="url(#gp)"/><rect x="0" y="45" width="48" height="1" fill="#b40000"/><rect x="47" y="45" width="1" height="24" fill="#b40000"/><rect x="0" y="68" width="44" height="1" fill="#a80000"/><rect x="0" y="69" width="44" height="1" fill="#f07a7a"/><rect x="104" y="69" width="1" height="33" fill="#a00000"/><rect x="0" y="101" width="105" height="1" fill="#a00000"/><rect x="163" y="45" width="52" height="24" fill="url(#gb)"/><rect x="107" y="69" width="108" height="33" fill="url(#gp)"/><rect x="163" y="45" width="52" height="1" fill="#b40000"/><rect x="163" y="45" width="1" height="24" fill="#b40000"/><rect x="214" y="45" width="1" height="57" fill="#a00000"/><rect x="167" y="68" width="44" height="1" fill="#a80000"/><rect x="167" y="69" width="44" height="1" fill="#f07a7a"/><rect x="107" y="69" width="1" height="33" fill="#a00000"/><rect x="107" y="101" width="108" height="1" fill="#a00000"/><rect x="48" y="45" width="115" height="24" fill="#fff"/><rect x="50" y="45" width="111" height="21" fill="#fff" stroke="#a9aeb8" stroke-width="1" transform="translate(0.5 0.5)"/><rect x="52" y="47" width="19" height="18" fill="url(#gg)"/><rect x="71" y="46" width="1" height="20" fill="#a9aeb8"/><rect x="140" y="47" width="19" height="18" fill="url(#gg)"/><rect x="139" y="46" width="1" height="20" fill="#a9aeb8"/></g><path d="M58 54 H63 L60.5 57 Z" fill="#5060c0"/><path d="M147 57 H152 L149.5 54 Z" fill="#5060c0"/><text x="135.5" y="60" font-size="12" fill="#000" text-anchor="end" font-family='"Liberation Sans", sans-serif' textLength="23" lengthAdjust="spacingAndGlyphs">1.00</text><text x="8.5" y="61" font-size="12" fill="#fff" font-family='"Liberation Sans", sans-serif' textLength="25.5" lengthAdjust="spacingAndGlyphs">SELL</text><text x="176.5" y="61" font-size="12" fill="#fff" font-family='"Liberation Sans", sans-serif' textLength="23.5" lengthAdjust="spacingAndGlyphs">BUY</text><text x="12.3" y="97" font-size="12.5" font-weight="bold" fill="#fff" font-family='"Liberation Sans", sans-serif' textLength="33.7" lengthAdjust="spacingAndGlyphs">23111</text><text x="122.3" y="97" font-size="12.5" font-weight="bold" fill="#fff" font-family='"Liberation Sans", sans-serif' textLength="34.3" lengthAdjust="spacingAndGlyphs">23124</text><rect x="52" y="94" width="3" height="3" fill="#fff"/><rect x="162" y="94" width="3" height="3" fill="#fff"/><text x="57" y="97" font-size="35" fill="#fff" font-family="'Liberation Serif', serif" textLength="17.5" lengthAdjust="spacingAndGlyphs">0</text><text x="167.5" y="97" font-size="35" fill="#fff" font-family="'Liberation Serif', serif" textLength="17.5" lengthAdjust="spacingAndGlyphs">0</text></svg>
</body></html>
